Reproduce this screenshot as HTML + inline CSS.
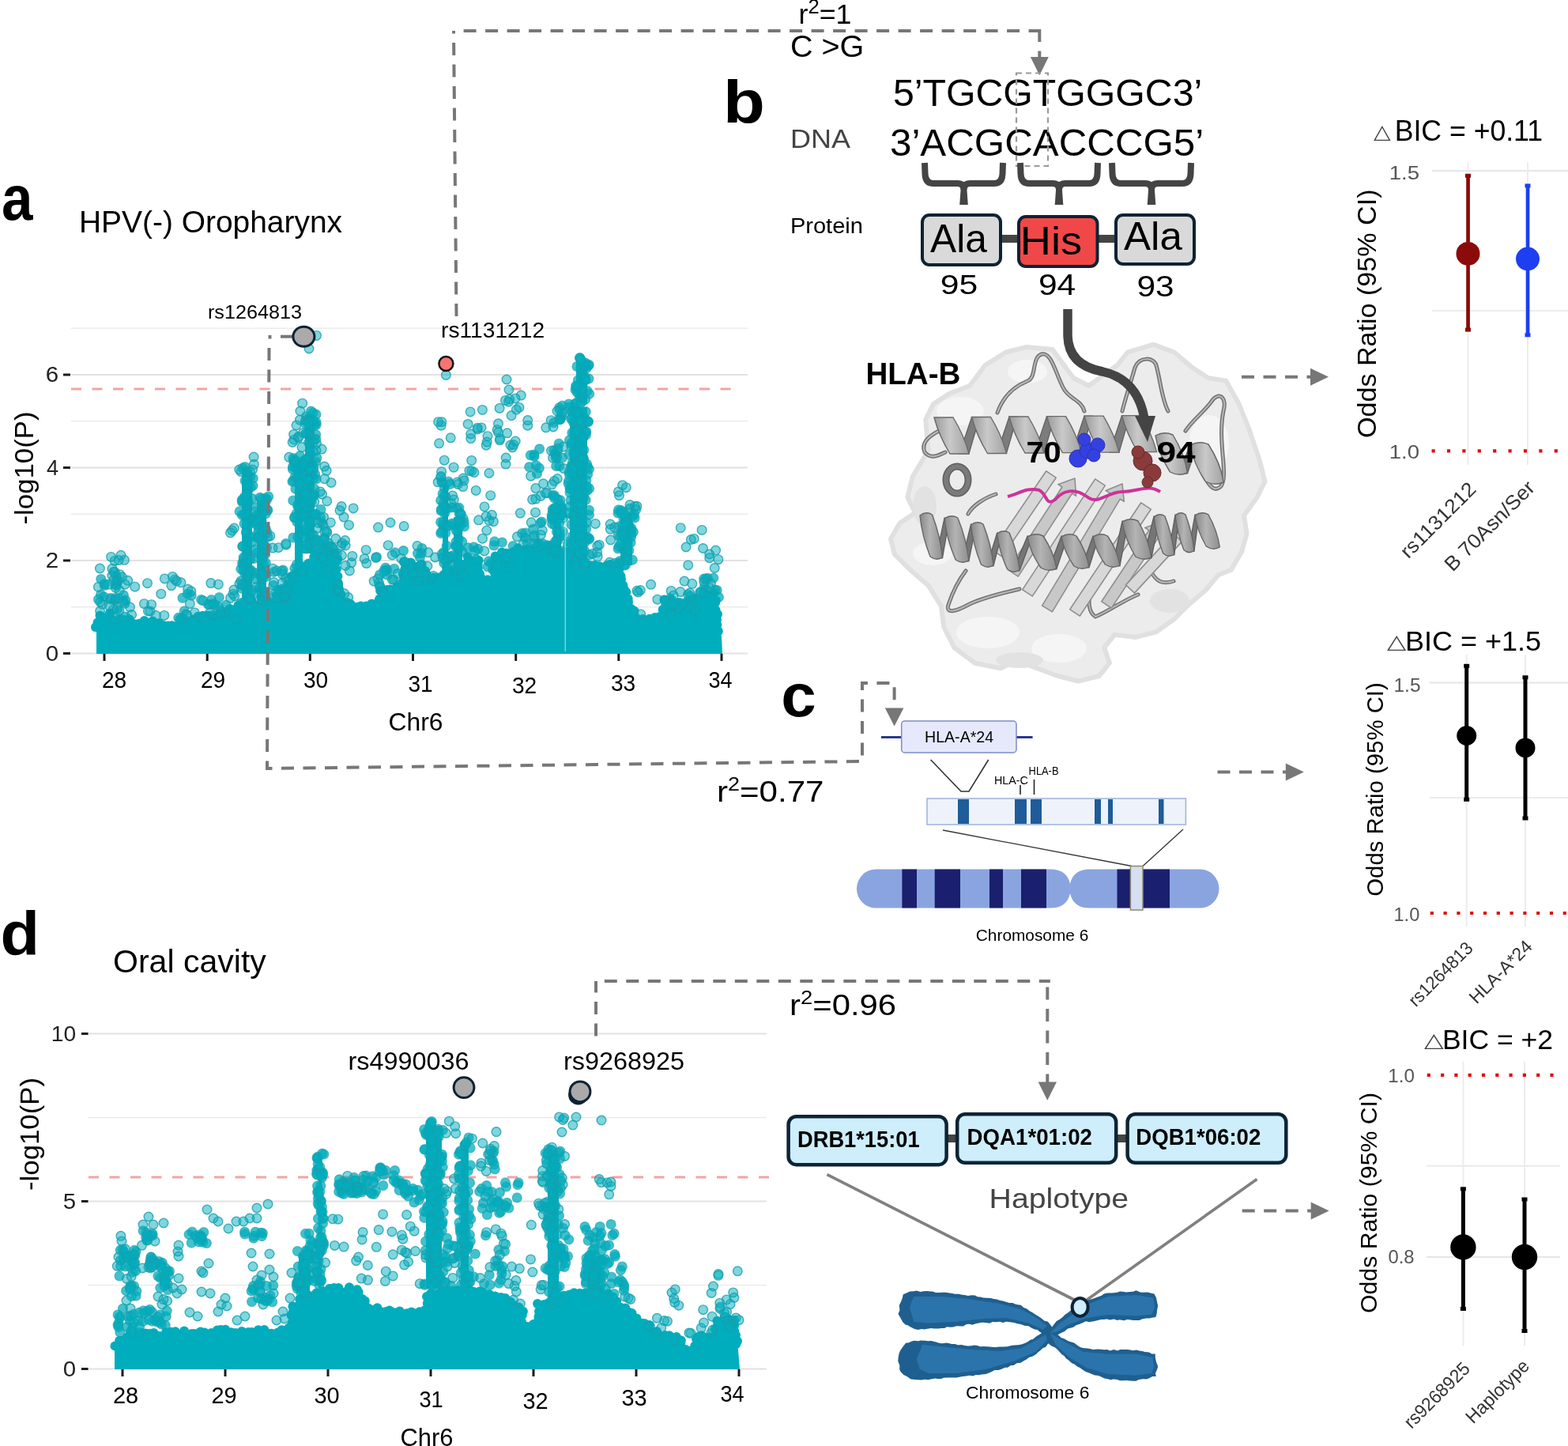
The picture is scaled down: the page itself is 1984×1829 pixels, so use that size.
<!DOCTYPE html>
<html><head><meta charset="utf-8"><style>
html,body{margin:0;padding:0;background:#fff;}
svg{display:block;}
text{font-family:"Liberation Sans",Arial,sans-serif;}
</style></head><body>
<svg width="1984" height="1829" viewBox="0 0 1984 1829">
<rect width="1984" height="1829" fill="#fff"/>
<text x="1.9" y="278.0" font-size="79.6" textLength="39.5" lengthAdjust="spacingAndGlyphs" font-weight="bold" fill="#000">a</text>
<text x="914.9" y="154.5" font-size="75.9" textLength="52.9" lengthAdjust="spacingAndGlyphs" font-weight="bold" fill="#000">b</text>
<text x="988.2" y="906.0" font-size="76.7" textLength="44.5" lengthAdjust="spacingAndGlyphs" font-weight="bold" fill="#000">c</text>
<text x="0.4" y="1208.0" font-size="78.6" textLength="49.5" lengthAdjust="spacingAndGlyphs" font-weight="bold" fill="#000">d</text>
<line x1="90" y1="826.5" x2="946" y2="826.5" stroke="#e2e2e2" stroke-width="2"/><line x1="90" y1="767.8" x2="946" y2="767.8" stroke="#ebebeb" stroke-width="1.6"/><line x1="90" y1="709.0" x2="946" y2="709.0" stroke="#e2e2e2" stroke-width="2"/><line x1="90" y1="650.2" x2="946" y2="650.2" stroke="#ebebeb" stroke-width="1.6"/><line x1="90" y1="591.5" x2="946" y2="591.5" stroke="#e2e2e2" stroke-width="2"/><line x1="90" y1="532.8" x2="946" y2="532.8" stroke="#ebebeb" stroke-width="1.6"/><line x1="90" y1="474.0" x2="946" y2="474.0" stroke="#e2e2e2" stroke-width="2"/><line x1="90" y1="415.2" x2="946" y2="415.2" stroke="#ebebeb" stroke-width="1.6"/>
<line x1="90" y1="492" x2="936" y2="492" stroke="#f4a3a3" stroke-width="3" stroke-dasharray="13 13.5"/>
<line x1="80" y1="826.5" x2="89" y2="826.5" stroke="#1a1a1a" stroke-width="3"/>
<text x="57.8" y="835.8" font-size="26.8" textLength="16.4" lengthAdjust="spacingAndGlyphs" fill="#222">0</text>
<line x1="80" y1="709.0" x2="89" y2="709.0" stroke="#1a1a1a" stroke-width="3"/>
<text x="57.8" y="718.3" font-size="26.8" textLength="16.4" lengthAdjust="spacingAndGlyphs" fill="#222">2</text>
<line x1="80" y1="591.5" x2="89" y2="591.5" stroke="#1a1a1a" stroke-width="3"/>
<text x="59.0" y="600.8" font-size="26.8" textLength="15.1" lengthAdjust="spacingAndGlyphs" fill="#222">4</text>
<line x1="80" y1="474.0" x2="89" y2="474.0" stroke="#1a1a1a" stroke-width="3"/>
<text x="57.8" y="483.3" font-size="26.8" textLength="16.4" lengthAdjust="spacingAndGlyphs" fill="#222">6</text>
<line x1="132.0" y1="827" x2="132.0" y2="836" stroke="#1a1a1a" stroke-width="3"/>
<text x="128.9" y="870.0" font-size="29.0" textLength="31.2" lengthAdjust="spacingAndGlyphs" fill="#000">28</text>
<line x1="262.2" y1="827" x2="262.2" y2="836" stroke="#1a1a1a" stroke-width="3"/>
<text x="253.9" y="870.0" font-size="29.0" textLength="31.2" lengthAdjust="spacingAndGlyphs" fill="#000">29</text>
<line x1="392.3" y1="827" x2="392.3" y2="836" stroke="#1a1a1a" stroke-width="3"/>
<text x="383.9" y="870.0" font-size="29.0" textLength="31.2" lengthAdjust="spacingAndGlyphs" fill="#000">30</text>
<line x1="522.5" y1="827" x2="522.5" y2="836" stroke="#1a1a1a" stroke-width="3"/>
<text x="516.4" y="875.0" font-size="29.0" textLength="31.2" lengthAdjust="spacingAndGlyphs" fill="#000">31</text>
<line x1="652.7" y1="827" x2="652.7" y2="836" stroke="#1a1a1a" stroke-width="3"/>
<text x="647.9" y="876.5" font-size="29.0" textLength="31.3" lengthAdjust="spacingAndGlyphs" fill="#000">32</text>
<line x1="782.8" y1="827" x2="782.8" y2="836" stroke="#1a1a1a" stroke-width="3"/>
<text x="772.9" y="874.0" font-size="29.0" textLength="31.3" lengthAdjust="spacingAndGlyphs" fill="#000">33</text>
<line x1="913.0" y1="827" x2="913.0" y2="836" stroke="#1a1a1a" stroke-width="3"/>
<text x="896.4" y="870.0" font-size="29.0" textLength="30.1" lengthAdjust="spacingAndGlyphs" fill="#000">34</text>
<text x="491.5" y="924.0" font-size="31.2" textLength="69.0" lengthAdjust="spacingAndGlyphs" fill="#000">Chr6</text>
<g transform="translate(42.0,662.5) rotate(-90)"><text x="-1.0" y="0.0" font-size="34.0" textLength="143.0" lengthAdjust="spacingAndGlyphs" fill="#000">-log10(P)</text></g>
<text x="100.0" y="294.0" font-size="39.1" textLength="333.0" lengthAdjust="spacingAndGlyphs" fill="#000">HPV(-) Oropharynx</text>
<line x1="111" y1="1731.5" x2="970" y2="1731.5" stroke="#e2e2e2" stroke-width="2"/><line x1="111" y1="1625.5" x2="970" y2="1625.5" stroke="#ebebeb" stroke-width="1.6"/><line x1="111" y1="1519.5" x2="970" y2="1519.5" stroke="#e2e2e2" stroke-width="2"/><line x1="111" y1="1413.5" x2="970" y2="1413.5" stroke="#ebebeb" stroke-width="1.6"/><line x1="111" y1="1307.5" x2="970" y2="1307.5" stroke="#e2e2e2" stroke-width="2"/>
<line x1="112" y1="1489" x2="985" y2="1489" stroke="#f4a3a3" stroke-width="3" stroke-dasharray="13 13.5"/>
<line x1="103" y1="1731.5" x2="111.5" y2="1731.5" stroke="#1a1a1a" stroke-width="3"/>
<text x="79.8" y="1741.1" font-size="28.3" textLength="16.4" lengthAdjust="spacingAndGlyphs" fill="#222">0</text>
<line x1="103" y1="1519.5" x2="111.5" y2="1519.5" stroke="#1a1a1a" stroke-width="3"/>
<text x="79.8" y="1529.1" font-size="28.3" textLength="16.4" lengthAdjust="spacingAndGlyphs" fill="#222">5</text>
<line x1="103" y1="1307.5" x2="111.5" y2="1307.5" stroke="#1a1a1a" stroke-width="3"/>
<text x="64.8" y="1317.1" font-size="28.3" textLength="31.4" lengthAdjust="spacingAndGlyphs" fill="#222">10</text>
<line x1="155.0" y1="1732" x2="155.0" y2="1741" stroke="#1a1a1a" stroke-width="3"/>
<text x="142.9" y="1775.0" font-size="29.0" textLength="32.2" lengthAdjust="spacingAndGlyphs" fill="#000">28</text>
<line x1="285.0" y1="1732" x2="285.0" y2="1741" stroke="#1a1a1a" stroke-width="3"/>
<text x="267.4" y="1775.0" font-size="29.0" textLength="32.2" lengthAdjust="spacingAndGlyphs" fill="#000">29</text>
<line x1="415.0" y1="1732" x2="415.0" y2="1741" stroke="#1a1a1a" stroke-width="3"/>
<text x="397.4" y="1775.0" font-size="29.0" textLength="32.2" lengthAdjust="spacingAndGlyphs" fill="#000">30</text>
<line x1="545.0" y1="1732" x2="545.0" y2="1741" stroke="#1a1a1a" stroke-width="3"/>
<text x="530.4" y="1780.0" font-size="29.0" textLength="30.3" lengthAdjust="spacingAndGlyphs" fill="#000">31</text>
<line x1="675.0" y1="1732" x2="675.0" y2="1741" stroke="#1a1a1a" stroke-width="3"/>
<text x="661.4" y="1782.0" font-size="29.0" textLength="32.2" lengthAdjust="spacingAndGlyphs" fill="#000">32</text>
<line x1="805.0" y1="1732" x2="805.0" y2="1741" stroke="#1a1a1a" stroke-width="3"/>
<text x="786.4" y="1778.0" font-size="29.0" textLength="32.2" lengthAdjust="spacingAndGlyphs" fill="#000">33</text>
<line x1="935.0" y1="1732" x2="935.0" y2="1741" stroke="#1a1a1a" stroke-width="3"/>
<text x="911.4" y="1773.0" font-size="29.0" textLength="30.1" lengthAdjust="spacingAndGlyphs" fill="#000">34</text>
<text x="506.5" y="1829.0" font-size="31.2" textLength="67.0" lengthAdjust="spacingAndGlyphs" fill="#000">Chr6</text>
<g transform="translate(48.5,1505.0) rotate(-90)"><text x="-1.0" y="0.0" font-size="34.0" textLength="143.0" lengthAdjust="spacingAndGlyphs" fill="#000">-log10(P)</text></g>
<text x="143.0" y="1229.5" font-size="40.3" textLength="193.9" lengthAdjust="spacingAndGlyphs" fill="#000">Oral cavity</text>
<polygon points="122.0,827.0 122.0,792.0 126.0,780.0 140.0,776.0 150.0,782.0 170.0,786.0 230.0,789.0 250.0,780.0 290.0,771.0 300.0,764.0 345.0,760.0 355.0,745.0 365.0,735.0 400.0,700.0 410.0,690.0 425.0,700.0 428.0,749.0 450.0,768.0 478.0,762.0 482.0,748.0 508.0,742.0 512.0,712.0 535.0,714.0 540.0,732.0 555.0,730.0 575.0,720.0 590.0,705.0 605.0,708.0 607.0,732.0 624.0,730.0 627.0,700.0 650.0,695.0 680.0,690.0 695.0,690.0 714.0,700.0 716.0,700.0 720.0,700.0 747.0,715.0 780.0,715.0 805.0,784.0 815.0,780.0 840.0,778.0 842.0,760.0 880.0,758.0 905.0,750.0 908.0,790.0 913.0,805.0 914.0,827.0" fill="#00adbd"/><g fill="#00adbd"><circle cx="121.0" cy="793.3" r="6"/><circle cx="123.5" cy="787.6" r="6"/><circle cx="126.5" cy="778.4" r="6"/><circle cx="131.1" cy="781.0" r="6"/><circle cx="139.0" cy="775.4" r="6"/><circle cx="152.0" cy="782.8" r="6"/><circle cx="158.0" cy="784.2" r="6"/><circle cx="163.9" cy="783.6" r="6"/><circle cx="170.5" cy="789.2" r="6"/><circle cx="176.1" cy="788.7" r="6"/><circle cx="182.7" cy="785.0" r="6"/><circle cx="189.0" cy="788.4" r="6"/><circle cx="193.2" cy="785.4" r="6"/><circle cx="201.5" cy="788.3" r="6"/><circle cx="206.9" cy="791.1" r="6"/><circle cx="212.9" cy="791.6" r="6"/><circle cx="217.6" cy="791.2" r="6"/><circle cx="223.8" cy="792.3" r="6"/><circle cx="231.5" cy="787.6" r="6"/><circle cx="235.2" cy="785.3" r="6"/><circle cx="245.2" cy="783.6" r="6"/><circle cx="250.5" cy="779.8" r="6"/><circle cx="256.7" cy="778.8" r="6"/><circle cx="262.7" cy="778.5" r="6"/><circle cx="270.3" cy="778.9" r="6"/><circle cx="277.4" cy="777.6" r="6"/><circle cx="284.8" cy="776.4" r="6"/><circle cx="290.7" cy="770.0" r="6"/><circle cx="296.4" cy="771.3" r="6"/><circle cx="301.6" cy="765.4" r="6"/><circle cx="307.3" cy="762.7" r="6"/><circle cx="314.2" cy="764.3" r="6"/><circle cx="318.4" cy="760.7" r="6"/><circle cx="327.1" cy="765.7" r="6"/><circle cx="330.5" cy="763.9" r="6"/><circle cx="338.2" cy="759.5" r="6"/><circle cx="344.2" cy="762.6" r="6"/><circle cx="349.8" cy="753.3" r="6"/><circle cx="352.1" cy="748.3" r="6"/><circle cx="355.9" cy="745.0" r="6"/><circle cx="361.5" cy="743.9" r="6"/><circle cx="365.0" cy="739.0" r="6"/><circle cx="368.6" cy="729.1" r="6"/><circle cx="374.1" cy="724.4" r="6"/><circle cx="376.9" cy="722.3" r="6"/><circle cx="382.9" cy="716.4" r="6"/><circle cx="385.0" cy="716.3" r="6"/><circle cx="390.5" cy="712.5" r="6"/><circle cx="397.2" cy="704.6" r="6"/><circle cx="399.8" cy="701.1" r="6"/><circle cx="405.6" cy="696.6" r="6"/><circle cx="410.2" cy="691.7" r="6"/><circle cx="416.8" cy="694.4" r="6"/><circle cx="419.7" cy="699.0" r="6"/><circle cx="424.0" cy="699.8" r="6"/><circle cx="427.3" cy="707.3" r="6"/><circle cx="425.9" cy="710.3" r="6"/><circle cx="425.8" cy="719.9" r="6"/><circle cx="424.6" cy="726.2" r="6"/><circle cx="427.4" cy="729.0" r="6"/><circle cx="427.8" cy="737.5" r="6"/><circle cx="428.3" cy="743.0" r="6"/><circle cx="428.8" cy="751.4" r="6"/><circle cx="431.6" cy="752.1" r="6"/><circle cx="439.7" cy="762.3" r="6"/><circle cx="443.5" cy="764.0" r="6"/><circle cx="450.4" cy="767.9" r="6"/><circle cx="456.5" cy="766.4" r="6"/><circle cx="463.5" cy="766.6" r="6"/><circle cx="470.2" cy="763.8" r="6"/><circle cx="479.1" cy="760.2" r="6"/><circle cx="480.3" cy="757.4" r="6"/><circle cx="481.2" cy="747.3" r="6"/><circle cx="489.7" cy="745.9" r="6"/><circle cx="493.7" cy="745.6" r="6"/><circle cx="502.3" cy="742.1" r="6"/><circle cx="507.3" cy="742.0" r="6"/><circle cx="510.1" cy="736.6" r="6"/><circle cx="511.0" cy="729.0" r="6"/><circle cx="509.7" cy="725.9" r="6"/><circle cx="512.7" cy="718.7" r="6"/><circle cx="510.9" cy="710.7" r="6"/><circle cx="519.8" cy="711.8" r="6"/><circle cx="528.6" cy="716.4" r="6"/><circle cx="533.7" cy="713.7" r="6"/><circle cx="537.9" cy="721.9" r="6"/><circle cx="539.6" cy="726.1" r="6"/><circle cx="538.5" cy="731.8" r="6"/><circle cx="548.7" cy="730.6" r="6"/><circle cx="554.4" cy="730.5" r="6"/><circle cx="561.3" cy="727.1" r="6"/><circle cx="570.0" cy="722.3" r="6"/><circle cx="573.0" cy="723.7" r="6"/><circle cx="581.5" cy="718.9" r="6"/><circle cx="584.7" cy="713.7" r="6"/><circle cx="591.7" cy="704.3" r="6"/><circle cx="598.5" cy="709.5" r="6"/><circle cx="605.7" cy="709.1" r="6"/><circle cx="604.7" cy="714.0" r="6"/><circle cx="604.9" cy="718.4" r="6"/><circle cx="606.9" cy="725.7" r="6"/><circle cx="608.2" cy="730.3" r="6"/><circle cx="617.1" cy="733.2" r="6"/><circle cx="625.7" cy="733.4" r="6"/><circle cx="626.2" cy="725.5" r="6"/><circle cx="623.3" cy="720.5" r="6"/><circle cx="624.5" cy="711.8" r="6"/><circle cx="627.1" cy="707.1" r="6"/><circle cx="626.7" cy="703.6" r="6"/><circle cx="635.1" cy="698.4" r="6"/><circle cx="641.3" cy="699.8" r="6"/><circle cx="649.9" cy="697.7" r="6"/><circle cx="655.4" cy="693.2" r="6"/><circle cx="662.1" cy="695.9" r="6"/><circle cx="666.7" cy="694.8" r="6"/><circle cx="675.7" cy="693.8" r="6"/><circle cx="681.3" cy="688.0" r="6"/><circle cx="688.0" cy="693.2" r="6"/><circle cx="693.2" cy="689.6" r="6"/><circle cx="700.4" cy="694.5" r="6"/><circle cx="707.4" cy="697.5" r="6"/><circle cx="715.1" cy="698.0" r="6"/><circle cx="714.2" cy="698.8" r="6"/><circle cx="718.5" cy="698.4" r="6"/><circle cx="727.3" cy="706.1" r="6"/><circle cx="729.1" cy="707.0" r="6"/><circle cx="735.5" cy="708.9" r="6"/><circle cx="741.0" cy="713.9" r="6"/><circle cx="747.3" cy="715.2" r="6"/><circle cx="752.4" cy="715.0" r="6"/><circle cx="758.7" cy="716.3" r="6"/><circle cx="767.7" cy="715.3" r="6"/><circle cx="771.7" cy="714.1" r="6"/><circle cx="779.5" cy="716.6" r="6"/><circle cx="783.2" cy="721.0" r="6"/><circle cx="785.4" cy="728.2" r="6"/><circle cx="786.0" cy="732.5" r="6"/><circle cx="788.3" cy="740.2" r="6"/><circle cx="790.1" cy="745.9" r="6"/><circle cx="792.3" cy="749.0" r="6"/><circle cx="794.7" cy="757.4" r="6"/><circle cx="795.0" cy="761.5" r="6"/><circle cx="798.5" cy="770.0" r="6"/><circle cx="802.6" cy="772.7" r="6"/><circle cx="804.5" cy="781.0" r="6"/><circle cx="804.0" cy="784.8" r="6"/><circle cx="813.5" cy="782.9" r="6"/><circle cx="821.9" cy="782.8" r="6"/><circle cx="828.7" cy="781.0" r="6"/><circle cx="834.7" cy="779.9" r="6"/><circle cx="838.4" cy="779.5" r="6"/><circle cx="838.7" cy="770.9" r="6"/><circle cx="842.4" cy="764.3" r="6"/><circle cx="840.4" cy="758.6" r="6"/><circle cx="849.9" cy="758.7" r="6"/><circle cx="852.8" cy="762.4" r="6"/><circle cx="859.5" cy="762.1" r="6"/><circle cx="868.0" cy="761.7" r="6"/><circle cx="875.5" cy="759.8" r="6"/><circle cx="881.2" cy="756.2" r="6"/><circle cx="887.3" cy="757.1" r="6"/><circle cx="893.4" cy="752.6" r="6"/><circle cx="899.7" cy="755.6" r="6"/><circle cx="903.2" cy="749.9" r="6"/><circle cx="905.8" cy="759.6" r="6"/><circle cx="905.0" cy="762.4" r="6"/><circle cx="905.5" cy="771.7" r="6"/><circle cx="908.0" cy="777.0" r="6"/><circle cx="907.0" cy="783.7" r="6"/><circle cx="907.4" cy="790.5" r="6"/><circle cx="908.8" cy="798.5" r="6"/></g><rect x="306.0" y="594.0" width="13.0" height="170.0" fill="#00adbd"/><rect x="325.0" y="632.0" width="12.0" height="132.0" fill="#00adbd"/><rect x="373.0" y="582.0" width="10.0" height="153.0" fill="#00adbd"/><rect x="386.0" y="524.0" width="12.0" height="176.0" fill="#00adbd"/><rect x="560.0" y="614.0" width="7.0" height="116.0" fill="#00adbd"/><rect x="574.0" y="654.0" width="11.0" height="76.0" fill="#00adbd"/><rect x="700.0" y="647.0" width="10.0" height="53.0" fill="#00adbd"/><rect x="721.0" y="515.0" width="22.0" height="200.0" fill="#00adbd"/><rect x="729.0" y="456.0" width="14.0" height="55.0" fill="#00adbd"/><rect x="785.0" y="649.0" width="15.0" height="66.0" fill="#00adbd"/><g fill="#00adbd" fill-opacity="0.75" stroke="#1a9eab" stroke-opacity="0.6" stroke-width="1.2"><circle cx="321.5" cy="660.7" r="6"/><circle cx="317.2" cy="616.3" r="6"/><circle cx="316.1" cy="721.1" r="6"/><circle cx="315.8" cy="679.0" r="6"/><circle cx="312.2" cy="701.2" r="6"/><circle cx="320.1" cy="614.3" r="6"/><circle cx="304.8" cy="719.7" r="6"/><circle cx="320.4" cy="679.0" r="6"/><circle cx="311.4" cy="714.5" r="6"/><circle cx="306.5" cy="635.1" r="6"/><circle cx="306.8" cy="691.1" r="6"/><circle cx="309.0" cy="628.9" r="6"/><circle cx="316.1" cy="755.8" r="6"/><circle cx="308.6" cy="712.1" r="6"/><circle cx="310.9" cy="738.2" r="6"/><circle cx="314.1" cy="635.0" r="6"/><circle cx="307.1" cy="592.1" r="6"/><circle cx="312.1" cy="655.4" r="6"/><circle cx="306.3" cy="651.4" r="6"/><circle cx="309.1" cy="724.3" r="6"/><circle cx="305.7" cy="762.5" r="6"/><circle cx="312.1" cy="693.4" r="6"/><circle cx="311.9" cy="734.9" r="6"/><circle cx="318.6" cy="686.1" r="6"/><circle cx="312.1" cy="714.8" r="6"/><circle cx="319.3" cy="658.4" r="6"/><circle cx="316.9" cy="757.0" r="6"/><circle cx="311.9" cy="628.4" r="6"/><circle cx="307.5" cy="714.3" r="6"/><circle cx="315.8" cy="756.7" r="6"/><circle cx="319.2" cy="630.6" r="6"/><circle cx="306.6" cy="633.5" r="6"/><circle cx="306.6" cy="712.0" r="6"/><circle cx="319.3" cy="746.4" r="6"/><circle cx="307.8" cy="740.3" r="6"/><circle cx="309.0" cy="662.5" r="6"/><circle cx="316.9" cy="603.1" r="6"/><circle cx="304.8" cy="734.8" r="6"/><circle cx="308.5" cy="650.8" r="6"/><circle cx="314.0" cy="706.9" r="6"/><circle cx="303.1" cy="646.9" r="6"/><circle cx="311.3" cy="673.5" r="6"/><circle cx="307.0" cy="691.0" r="6"/><circle cx="321.2" cy="656.8" r="6"/><circle cx="313.3" cy="609.0" r="6"/><circle cx="308.2" cy="705.1" r="6"/><circle cx="305.1" cy="744.1" r="6"/><circle cx="320.3" cy="605.1" r="6"/><circle cx="320.9" cy="653.9" r="6"/><circle cx="317.7" cy="721.3" r="6"/><circle cx="308.6" cy="707.0" r="6"/><circle cx="315.4" cy="729.9" r="6"/><circle cx="308.0" cy="720.7" r="6"/><circle cx="321.3" cy="706.4" r="6"/><circle cx="313.2" cy="607.9" r="6"/><circle cx="312.4" cy="650.0" r="6"/><circle cx="316.6" cy="707.4" r="6"/><circle cx="313.8" cy="620.0" r="6"/><circle cx="333.6" cy="713.1" r="6"/><circle cx="325.2" cy="748.8" r="6"/><circle cx="333.8" cy="643.0" r="6"/><circle cx="338.8" cy="645.5" r="6"/><circle cx="328.0" cy="725.4" r="6"/><circle cx="332.8" cy="702.6" r="6"/><circle cx="333.7" cy="689.2" r="6"/><circle cx="327.6" cy="650.3" r="6"/><circle cx="323.2" cy="724.8" r="6"/><circle cx="335.6" cy="701.0" r="6"/><circle cx="335.3" cy="675.6" r="6"/><circle cx="326.8" cy="678.9" r="6"/><circle cx="337.7" cy="631.8" r="6"/><circle cx="331.1" cy="660.1" r="6"/><circle cx="335.8" cy="674.9" r="6"/><circle cx="328.0" cy="681.7" r="6"/><circle cx="331.7" cy="732.5" r="6"/><circle cx="328.4" cy="742.9" r="6"/><circle cx="324.0" cy="663.3" r="6"/><circle cx="323.8" cy="641.6" r="6"/><circle cx="336.0" cy="726.4" r="6"/><circle cx="325.3" cy="652.1" r="6"/><circle cx="329.5" cy="728.6" r="6"/><circle cx="336.7" cy="729.3" r="6"/><circle cx="332.7" cy="646.2" r="6"/><circle cx="329.2" cy="652.7" r="6"/><circle cx="331.5" cy="704.4" r="6"/><circle cx="325.6" cy="660.5" r="6"/><circle cx="336.1" cy="630.2" r="6"/><circle cx="336.5" cy="749.0" r="6"/><circle cx="339.1" cy="678.9" r="6"/><circle cx="331.9" cy="706.5" r="6"/><circle cx="333.4" cy="760.8" r="6"/><circle cx="334.4" cy="667.3" r="6"/><circle cx="337.5" cy="692.8" r="6"/><circle cx="332.8" cy="726.3" r="6"/><circle cx="322.0" cy="732.3" r="6"/><circle cx="333.9" cy="693.9" r="6"/><circle cx="331.4" cy="689.6" r="6"/><circle cx="325.5" cy="699.1" r="6"/><circle cx="322.7" cy="695.1" r="6"/><circle cx="333.6" cy="687.3" r="6"/><circle cx="332.2" cy="758.3" r="6"/><circle cx="338.1" cy="644.7" r="6"/><circle cx="336.3" cy="712.0" r="6"/><circle cx="370.8" cy="633.2" r="6"/><circle cx="373.7" cy="588.4" r="6"/><circle cx="378.6" cy="723.8" r="6"/><circle cx="375.2" cy="714.4" r="6"/><circle cx="381.1" cy="597.4" r="6"/><circle cx="383.7" cy="671.6" r="6"/><circle cx="384.8" cy="689.8" r="6"/><circle cx="381.8" cy="630.6" r="6"/><circle cx="382.9" cy="724.1" r="6"/><circle cx="383.8" cy="645.5" r="6"/><circle cx="382.1" cy="653.1" r="6"/><circle cx="371.7" cy="582.8" r="6"/><circle cx="371.2" cy="607.8" r="6"/><circle cx="372.6" cy="655.0" r="6"/><circle cx="381.2" cy="661.5" r="6"/><circle cx="376.8" cy="679.2" r="6"/><circle cx="374.9" cy="649.8" r="6"/><circle cx="382.1" cy="639.8" r="6"/><circle cx="372.9" cy="719.0" r="6"/><circle cx="381.5" cy="634.3" r="6"/><circle cx="375.9" cy="660.2" r="6"/><circle cx="379.5" cy="611.6" r="6"/><circle cx="370.0" cy="609.2" r="6"/><circle cx="382.5" cy="598.8" r="6"/><circle cx="377.4" cy="607.1" r="6"/><circle cx="373.3" cy="603.2" r="6"/><circle cx="376.5" cy="602.8" r="6"/><circle cx="370.4" cy="593.5" r="6"/><circle cx="372.7" cy="654.0" r="6"/><circle cx="371.0" cy="579.6" r="6"/><circle cx="377.2" cy="640.8" r="6"/><circle cx="381.3" cy="584.1" r="6"/><circle cx="376.5" cy="639.1" r="6"/><circle cx="370.4" cy="729.5" r="6"/><circle cx="373.5" cy="591.0" r="6"/><circle cx="377.6" cy="602.2" r="6"/><circle cx="380.0" cy="631.1" r="6"/><circle cx="372.0" cy="584.3" r="6"/><circle cx="381.6" cy="619.7" r="6"/><circle cx="382.6" cy="650.0" r="6"/><circle cx="384.9" cy="623.8" r="6"/><circle cx="374.0" cy="618.3" r="6"/><circle cx="383.0" cy="676.0" r="6"/><circle cx="375.5" cy="590.9" r="6"/><circle cx="380.9" cy="730.1" r="6"/><circle cx="379.5" cy="576.6" r="6"/><circle cx="370.5" cy="590.4" r="6"/><circle cx="372.7" cy="581.8" r="6"/><circle cx="370.9" cy="680.0" r="6"/><circle cx="384.4" cy="607.9" r="6"/><circle cx="385.6" cy="651.8" r="6"/><circle cx="382.9" cy="721.9" r="6"/><circle cx="399.9" cy="524.2" r="6"/><circle cx="388.5" cy="628.5" r="6"/><circle cx="400.0" cy="534.0" r="6"/><circle cx="388.3" cy="672.7" r="6"/><circle cx="385.1" cy="589.0" r="6"/><circle cx="389.0" cy="641.8" r="6"/><circle cx="399.7" cy="549.8" r="6"/><circle cx="396.3" cy="651.6" r="6"/><circle cx="398.0" cy="618.7" r="6"/><circle cx="399.6" cy="584.0" r="6"/><circle cx="390.5" cy="559.8" r="6"/><circle cx="397.0" cy="605.5" r="6"/><circle cx="387.9" cy="548.9" r="6"/><circle cx="396.0" cy="628.2" r="6"/><circle cx="395.8" cy="588.4" r="6"/><circle cx="391.8" cy="546.0" r="6"/><circle cx="395.8" cy="522.2" r="6"/><circle cx="391.4" cy="656.0" r="6"/><circle cx="395.2" cy="535.7" r="6"/><circle cx="387.3" cy="671.5" r="6"/><circle cx="394.6" cy="677.9" r="6"/><circle cx="398.7" cy="599.9" r="6"/><circle cx="399.1" cy="651.4" r="6"/><circle cx="389.0" cy="585.4" r="6"/><circle cx="384.3" cy="590.7" r="6"/><circle cx="400.2" cy="537.1" r="6"/><circle cx="393.2" cy="538.0" r="6"/><circle cx="384.5" cy="636.1" r="6"/><circle cx="387.3" cy="526.9" r="6"/><circle cx="385.7" cy="635.3" r="6"/><circle cx="393.5" cy="520.1" r="6"/><circle cx="387.1" cy="694.0" r="6"/><circle cx="387.0" cy="620.4" r="6"/><circle cx="390.6" cy="660.2" r="6"/><circle cx="393.9" cy="661.5" r="6"/><circle cx="392.6" cy="552.2" r="6"/><circle cx="386.2" cy="532.4" r="6"/><circle cx="397.9" cy="538.5" r="6"/><circle cx="383.4" cy="693.9" r="6"/><circle cx="386.6" cy="680.6" r="6"/><circle cx="384.5" cy="602.7" r="6"/><circle cx="387.0" cy="669.0" r="6"/><circle cx="394.1" cy="634.8" r="6"/><circle cx="396.7" cy="676.6" r="6"/><circle cx="389.2" cy="627.8" r="6"/><circle cx="391.0" cy="538.2" r="6"/><circle cx="398.0" cy="626.2" r="6"/><circle cx="397.7" cy="555.5" r="6"/><circle cx="392.7" cy="602.5" r="6"/><circle cx="396.1" cy="532.1" r="6"/><circle cx="389.2" cy="606.2" r="6"/><circle cx="384.3" cy="618.6" r="6"/><circle cx="396.2" cy="595.0" r="6"/><circle cx="394.7" cy="628.3" r="6"/><circle cx="386.9" cy="581.8" r="6"/><circle cx="400.9" cy="579.0" r="6"/><circle cx="390.8" cy="533.3" r="6"/><circle cx="386.9" cy="548.1" r="6"/><circle cx="399.8" cy="650.2" r="6"/><circle cx="398.7" cy="697.6" r="6"/><circle cx="394.0" cy="687.5" r="6"/><circle cx="392.6" cy="594.2" r="6"/><circle cx="400.1" cy="682.4" r="6"/><circle cx="400.1" cy="606.1" r="6"/><circle cx="396.9" cy="592.1" r="6"/><circle cx="401.0" cy="685.5" r="6"/><circle cx="388.3" cy="688.0" r="6"/><circle cx="386.3" cy="535.4" r="6"/><circle cx="396.0" cy="571.6" r="6"/><circle cx="392.4" cy="634.3" r="6"/><circle cx="383.7" cy="653.6" r="6"/><circle cx="560.6" cy="660.8" r="6"/><circle cx="561.5" cy="698.5" r="6"/><circle cx="566.7" cy="643.1" r="6"/><circle cx="558.3" cy="644.5" r="6"/><circle cx="562.3" cy="617.5" r="6"/><circle cx="559.0" cy="701.1" r="6"/><circle cx="566.1" cy="727.1" r="6"/><circle cx="569.7" cy="714.9" r="6"/><circle cx="561.8" cy="627.7" r="6"/><circle cx="561.1" cy="664.5" r="6"/><circle cx="563.8" cy="674.1" r="6"/><circle cx="561.7" cy="712.0" r="6"/><circle cx="560.7" cy="664.5" r="6"/><circle cx="568.5" cy="706.5" r="6"/><circle cx="560.9" cy="637.6" r="6"/><circle cx="567.5" cy="609.2" r="6"/><circle cx="558.7" cy="672.8" r="6"/><circle cx="564.0" cy="628.2" r="6"/><circle cx="557.7" cy="632.9" r="6"/><circle cx="567.0" cy="664.8" r="6"/><circle cx="569.7" cy="703.8" r="6"/><circle cx="569.7" cy="612.3" r="6"/><circle cx="559.4" cy="609.6" r="6"/><circle cx="562.6" cy="649.3" r="6"/><circle cx="557.7" cy="674.6" r="6"/><circle cx="558.2" cy="646.0" r="6"/><circle cx="560.2" cy="705.9" r="6"/><circle cx="562.4" cy="639.8" r="6"/><circle cx="557.6" cy="660.4" r="6"/><circle cx="565.2" cy="690.4" r="6"/><circle cx="568.9" cy="706.6" r="6"/><circle cx="560.2" cy="624.6" r="6"/><circle cx="566.9" cy="704.3" r="6"/><circle cx="563.6" cy="709.4" r="6"/><circle cx="564.2" cy="642.1" r="6"/><circle cx="559.2" cy="610.1" r="6"/><circle cx="565.4" cy="717.4" r="6"/><circle cx="568.8" cy="665.0" r="6"/><circle cx="565.7" cy="721.3" r="6"/><circle cx="584.8" cy="697.4" r="6"/><circle cx="578.0" cy="690.5" r="6"/><circle cx="573.9" cy="663.0" r="6"/><circle cx="582.6" cy="729.4" r="6"/><circle cx="580.3" cy="681.5" r="6"/><circle cx="577.0" cy="685.3" r="6"/><circle cx="584.7" cy="685.1" r="6"/><circle cx="587.3" cy="660.7" r="6"/><circle cx="576.4" cy="690.8" r="6"/><circle cx="578.0" cy="717.8" r="6"/><circle cx="585.1" cy="724.4" r="6"/><circle cx="581.4" cy="650.5" r="6"/><circle cx="580.8" cy="693.1" r="6"/><circle cx="579.3" cy="670.9" r="6"/><circle cx="583.1" cy="722.8" r="6"/><circle cx="572.7" cy="702.8" r="6"/><circle cx="577.3" cy="690.2" r="6"/><circle cx="586.2" cy="726.7" r="6"/><circle cx="581.9" cy="664.0" r="6"/><circle cx="711.7" cy="651.7" r="6"/><circle cx="703.1" cy="689.9" r="6"/><circle cx="702.1" cy="657.0" r="6"/><circle cx="712.2" cy="696.7" r="6"/><circle cx="702.1" cy="664.2" r="6"/><circle cx="701.5" cy="648.8" r="6"/><circle cx="701.0" cy="698.8" r="6"/><circle cx="698.3" cy="654.6" r="6"/><circle cx="700.2" cy="645.7" r="6"/><circle cx="705.4" cy="684.8" r="6"/><circle cx="710.4" cy="678.2" r="6"/><circle cx="710.1" cy="641.3" r="6"/><circle cx="701.5" cy="697.7" r="6"/><circle cx="698.1" cy="656.8" r="6"/><circle cx="704.7" cy="656.8" r="6"/><circle cx="705.7" cy="643.8" r="6"/><circle cx="700.8" cy="697.5" r="6"/><circle cx="699.3" cy="694.4" r="6"/><circle cx="699.8" cy="699.6" r="6"/><circle cx="707.8" cy="679.2" r="6"/><circle cx="699.3" cy="644.2" r="6"/><circle cx="709.2" cy="651.4" r="6"/><circle cx="700.0" cy="689.5" r="6"/><circle cx="711.0" cy="643.9" r="6"/><circle cx="712.4" cy="672.5" r="6"/><circle cx="703.1" cy="647.3" r="6"/><circle cx="703.2" cy="699.3" r="6"/><circle cx="701.5" cy="648.7" r="6"/><circle cx="699.3" cy="648.5" r="6"/><circle cx="702.6" cy="695.0" r="6"/><circle cx="698.2" cy="652.3" r="6"/><circle cx="712.0" cy="699.8" r="6"/><circle cx="712.7" cy="655.5" r="6"/><circle cx="702.7" cy="697.1" r="6"/><circle cx="704.8" cy="682.5" r="6"/><circle cx="702.0" cy="642.3" r="6"/><circle cx="702.5" cy="685.1" r="6"/><circle cx="709.5" cy="674.6" r="6"/><circle cx="704.4" cy="672.7" r="6"/><circle cx="730.4" cy="619.1" r="6"/><circle cx="741.3" cy="550.3" r="6"/><circle cx="734.6" cy="701.2" r="6"/><circle cx="741.8" cy="546.0" r="6"/><circle cx="745.0" cy="682.0" r="6"/><circle cx="722.7" cy="563.8" r="6"/><circle cx="723.7" cy="519.9" r="6"/><circle cx="745.4" cy="593.3" r="6"/><circle cx="742.4" cy="532.6" r="6"/><circle cx="718.4" cy="688.2" r="6"/><circle cx="740.2" cy="713.3" r="6"/><circle cx="737.2" cy="617.2" r="6"/><circle cx="739.4" cy="528.1" r="6"/><circle cx="733.1" cy="599.9" r="6"/><circle cx="722.1" cy="632.7" r="6"/><circle cx="727.0" cy="613.3" r="6"/><circle cx="728.5" cy="574.5" r="6"/><circle cx="728.0" cy="632.8" r="6"/><circle cx="745.5" cy="701.8" r="6"/><circle cx="742.1" cy="681.1" r="6"/><circle cx="726.0" cy="710.2" r="6"/><circle cx="725.6" cy="534.4" r="6"/><circle cx="732.0" cy="659.8" r="6"/><circle cx="727.5" cy="641.9" r="6"/><circle cx="725.9" cy="708.2" r="6"/><circle cx="730.7" cy="607.4" r="6"/><circle cx="732.9" cy="689.2" r="6"/><circle cx="745.6" cy="617.9" r="6"/><circle cx="730.4" cy="636.3" r="6"/><circle cx="719.9" cy="596.6" r="6"/><circle cx="741.7" cy="669.1" r="6"/><circle cx="719.7" cy="685.0" r="6"/><circle cx="728.8" cy="711.1" r="6"/><circle cx="728.3" cy="553.2" r="6"/><circle cx="733.4" cy="691.1" r="6"/><circle cx="730.1" cy="687.7" r="6"/><circle cx="737.9" cy="583.5" r="6"/><circle cx="726.4" cy="613.1" r="6"/><circle cx="729.2" cy="585.7" r="6"/><circle cx="736.2" cy="689.3" r="6"/><circle cx="734.4" cy="539.1" r="6"/><circle cx="724.2" cy="585.4" r="6"/><circle cx="735.2" cy="537.7" r="6"/><circle cx="720.3" cy="575.1" r="6"/><circle cx="725.9" cy="515.1" r="6"/><circle cx="733.1" cy="698.8" r="6"/><circle cx="733.0" cy="660.9" r="6"/><circle cx="741.2" cy="681.6" r="6"/><circle cx="743.6" cy="599.9" r="6"/><circle cx="737.1" cy="533.9" r="6"/><circle cx="742.6" cy="586.9" r="6"/><circle cx="731.3" cy="692.4" r="6"/><circle cx="726.0" cy="548.1" r="6"/><circle cx="741.1" cy="632.4" r="6"/><circle cx="720.4" cy="514.8" r="6"/><circle cx="727.8" cy="510.5" r="6"/><circle cx="741.3" cy="546.8" r="6"/><circle cx="725.7" cy="589.1" r="6"/><circle cx="732.3" cy="598.1" r="6"/><circle cx="735.6" cy="644.9" r="6"/><circle cx="730.2" cy="529.0" r="6"/><circle cx="745.4" cy="651.4" r="6"/><circle cx="720.3" cy="600.0" r="6"/><circle cx="739.1" cy="713.3" r="6"/><circle cx="719.8" cy="511.0" r="6"/><circle cx="731.4" cy="596.0" r="6"/><circle cx="743.0" cy="679.3" r="6"/><circle cx="727.3" cy="595.3" r="6"/><circle cx="734.3" cy="691.1" r="6"/><circle cx="723.7" cy="589.7" r="6"/><circle cx="720.5" cy="641.1" r="6"/><circle cx="718.7" cy="701.6" r="6"/><circle cx="732.7" cy="627.2" r="6"/><circle cx="720.4" cy="556.8" r="6"/><circle cx="731.1" cy="685.6" r="6"/><circle cx="733.1" cy="567.6" r="6"/><circle cx="745.5" cy="645.3" r="6"/><circle cx="732.8" cy="550.7" r="6"/><circle cx="726.4" cy="694.4" r="6"/><circle cx="721.7" cy="618.5" r="6"/><circle cx="735.4" cy="582.1" r="6"/><circle cx="739.5" cy="696.5" r="6"/><circle cx="742.0" cy="661.0" r="6"/><circle cx="723.7" cy="521.3" r="6"/><circle cx="730.1" cy="573.3" r="6"/><circle cx="723.4" cy="688.5" r="6"/><circle cx="724.0" cy="678.5" r="6"/><circle cx="744.3" cy="533.7" r="6"/><circle cx="743.6" cy="590.8" r="6"/><circle cx="723.9" cy="547.4" r="6"/><circle cx="719.1" cy="611.7" r="6"/><circle cx="728.8" cy="684.4" r="6"/><circle cx="741.3" cy="520.7" r="6"/><circle cx="729.2" cy="589.2" r="6"/><circle cx="723.0" cy="560.6" r="6"/><circle cx="725.4" cy="652.0" r="6"/><circle cx="727.5" cy="531.9" r="6"/><circle cx="724.2" cy="600.1" r="6"/><circle cx="733.8" cy="559.6" r="6"/><circle cx="737.6" cy="553.4" r="6"/><circle cx="736.8" cy="634.5" r="6"/><circle cx="722.9" cy="663.7" r="6"/><circle cx="729.0" cy="620.1" r="6"/><circle cx="734.7" cy="638.4" r="6"/><circle cx="730.4" cy="520.5" r="6"/><circle cx="740.0" cy="686.1" r="6"/><circle cx="731.7" cy="628.3" r="6"/><circle cx="725.5" cy="694.1" r="6"/><circle cx="737.2" cy="554.7" r="6"/><circle cx="740.9" cy="712.1" r="6"/><circle cx="727.7" cy="714.1" r="6"/><circle cx="731.5" cy="545.8" r="6"/><circle cx="738.1" cy="578.8" r="6"/><circle cx="738.5" cy="629.2" r="6"/><circle cx="721.0" cy="617.8" r="6"/><circle cx="741.8" cy="607.4" r="6"/><circle cx="733.1" cy="686.8" r="6"/><circle cx="730.5" cy="610.5" r="6"/><circle cx="734.3" cy="678.7" r="6"/><circle cx="723.7" cy="528.3" r="6"/><circle cx="739.3" cy="622.8" r="6"/><circle cx="726.5" cy="692.8" r="6"/><circle cx="742.8" cy="620.5" r="6"/><circle cx="745.7" cy="681.2" r="6"/><circle cx="738.9" cy="569.0" r="6"/><circle cx="718.3" cy="648.8" r="6"/><circle cx="738.6" cy="581.2" r="6"/><circle cx="731.4" cy="625.8" r="6"/><circle cx="725.0" cy="652.7" r="6"/><circle cx="733.8" cy="588.4" r="6"/><circle cx="721.1" cy="623.1" r="6"/><circle cx="727.0" cy="658.3" r="6"/><circle cx="722.8" cy="590.2" r="6"/><circle cx="723.5" cy="593.1" r="6"/><circle cx="734.1" cy="531.0" r="6"/><circle cx="719.5" cy="608.3" r="6"/><circle cx="723.6" cy="613.1" r="6"/><circle cx="722.7" cy="529.8" r="6"/><circle cx="733.1" cy="699.2" r="6"/><circle cx="742.3" cy="615.2" r="6"/><circle cx="729.1" cy="522.6" r="6"/><circle cx="725.7" cy="573.7" r="6"/><circle cx="744.4" cy="533.1" r="6"/><circle cx="745.0" cy="479.1" r="6"/><circle cx="734.7" cy="466.0" r="6"/><circle cx="745.3" cy="461.4" r="6"/><circle cx="737.4" cy="481.2" r="6"/><circle cx="730.0" cy="463.6" r="6"/><circle cx="745.7" cy="498.2" r="6"/><circle cx="740.7" cy="505.1" r="6"/><circle cx="728.0" cy="492.9" r="6"/><circle cx="741.0" cy="463.7" r="6"/><circle cx="735.1" cy="509.4" r="6"/><circle cx="732.5" cy="496.5" r="6"/><circle cx="729.3" cy="490.7" r="6"/><circle cx="731.4" cy="481.0" r="6"/><circle cx="733.4" cy="503.1" r="6"/><circle cx="740.9" cy="480.8" r="6"/><circle cx="739.7" cy="476.1" r="6"/><circle cx="742.1" cy="465.7" r="6"/><circle cx="736.9" cy="485.7" r="6"/><circle cx="733.8" cy="452.8" r="6"/><circle cx="729.4" cy="489.1" r="6"/><circle cx="730.2" cy="496.2" r="6"/><circle cx="736.1" cy="508.1" r="6"/><circle cx="743.0" cy="494.4" r="6"/><circle cx="733.5" cy="452.7" r="6"/><circle cx="737.1" cy="495.5" r="6"/><circle cx="744.4" cy="462.4" r="6"/><circle cx="729.2" cy="509.8" r="6"/><circle cx="740.8" cy="479.6" r="6"/><circle cx="740.8" cy="459.1" r="6"/><circle cx="736.9" cy="490.8" r="6"/><circle cx="738.1" cy="459.8" r="6"/><circle cx="728.7" cy="488.1" r="6"/><circle cx="800.6" cy="652.9" r="6"/><circle cx="782.1" cy="649.0" r="6"/><circle cx="798.5" cy="671.1" r="6"/><circle cx="791.6" cy="714.6" r="6"/><circle cx="794.8" cy="662.0" r="6"/><circle cx="796.7" cy="643.1" r="6"/><circle cx="787.9" cy="693.3" r="6"/><circle cx="785.6" cy="645.4" r="6"/><circle cx="792.9" cy="666.6" r="6"/><circle cx="802.4" cy="650.3" r="6"/><circle cx="798.8" cy="671.0" r="6"/><circle cx="798.9" cy="675.0" r="6"/><circle cx="796.0" cy="666.5" r="6"/><circle cx="786.7" cy="675.6" r="6"/><circle cx="798.8" cy="667.9" r="6"/><circle cx="786.8" cy="672.9" r="6"/><circle cx="784.0" cy="665.7" r="6"/><circle cx="794.0" cy="682.3" r="6"/><circle cx="794.5" cy="663.9" r="6"/><circle cx="782.5" cy="644.9" r="6"/><circle cx="789.1" cy="657.1" r="6"/><circle cx="793.9" cy="662.1" r="6"/><circle cx="798.0" cy="686.3" r="6"/><circle cx="795.9" cy="696.0" r="6"/><circle cx="793.0" cy="673.7" r="6"/><circle cx="788.5" cy="647.5" r="6"/><circle cx="798.7" cy="679.0" r="6"/><circle cx="784.1" cy="709.7" r="6"/><circle cx="794.2" cy="687.9" r="6"/><circle cx="791.2" cy="652.1" r="6"/><circle cx="803.0" cy="655.1" r="6"/><circle cx="789.7" cy="715.0" r="6"/><circle cx="784.6" cy="679.0" r="6"/><circle cx="792.1" cy="660.8" r="6"/><circle cx="801.4" cy="672.8" r="6"/><circle cx="782.2" cy="677.1" r="6"/><circle cx="782.1" cy="694.0" r="6"/><circle cx="800.2" cy="708.2" r="6"/><circle cx="783.0" cy="691.6" r="6"/><circle cx="788.4" cy="677.0" r="6"/><circle cx="788.3" cy="665.0" r="6"/><circle cx="784.8" cy="688.1" r="6"/><circle cx="783.9" cy="712.4" r="6"/><circle cx="782.9" cy="712.4" r="6"/><circle cx="786.0" cy="649.0" r="6"/><circle cx="708.9" cy="530.0" r="6"/><circle cx="709.2" cy="529.3" r="6"/><circle cx="707.6" cy="515.6" r="6"/><circle cx="708.1" cy="529.4" r="6"/><circle cx="711.5" cy="513.2" r="6"/><circle cx="700.8" cy="534.6" r="6"/><circle cx="711.1" cy="526.5" r="6"/><circle cx="708.5" cy="530.9" r="6"/><circle cx="704.7" cy="578.6" r="6"/><circle cx="707.2" cy="561.2" r="6"/><circle cx="703.7" cy="589.5" r="6"/><circle cx="703.1" cy="578.9" r="6"/><circle cx="703.1" cy="574.3" r="6"/><circle cx="707.8" cy="589.7" r="6"/><circle cx="711.5" cy="579.1" r="6"/><circle cx="702.4" cy="573.5" r="6"/><circle cx="700.7" cy="569.6" r="6"/><circle cx="706.8" cy="654.7" r="6"/><circle cx="701.6" cy="626.8" r="6"/><circle cx="699.5" cy="626.6" r="6"/><circle cx="705.5" cy="631.6" r="6"/><circle cx="711.3" cy="651.7" r="6"/><circle cx="703.1" cy="643.0" r="6"/><circle cx="698.6" cy="662.6" r="6"/><circle cx="709.3" cy="638.6" r="6"/><circle cx="708.9" cy="632.7" r="6"/><circle cx="701.3" cy="629.8" r="6"/><circle cx="701.0" cy="654.4" r="6"/><circle cx="707.6" cy="662.3" r="6"/><circle cx="669.7" cy="590.7" r="6"/><circle cx="675.7" cy="575.1" r="6"/><circle cx="676.0" cy="577.3" r="6"/><circle cx="671.2" cy="575.8" r="6"/><circle cx="678.3" cy="588.6" r="6"/><circle cx="682.6" cy="567.8" r="6"/><circle cx="682.3" cy="592.0" r="6"/><circle cx="679.4" cy="599.2" r="6"/><circle cx="127.6" cy="752.2" r="6"/><circle cx="147.4" cy="729.3" r="6"/><circle cx="139.5" cy="758.1" r="6"/><circle cx="131.6" cy="754.9" r="6"/><circle cx="147.6" cy="740.2" r="6"/><circle cx="127.8" cy="732.5" r="6"/><circle cx="145.6" cy="739.8" r="6"/><circle cx="132.2" cy="740.5" r="6"/><circle cx="148.1" cy="733.9" r="6"/><circle cx="124.5" cy="758.2" r="6"/><circle cx="132.2" cy="738.5" r="6"/><circle cx="149.4" cy="734.9" r="6"/><circle cx="141.7" cy="785.5" r="6"/><circle cx="144.9" cy="758.9" r="6"/><circle cx="158.8" cy="759.2" r="6"/><circle cx="158.0" cy="763.3" r="6"/><circle cx="146.1" cy="758.6" r="6"/><circle cx="150.8" cy="772.4" r="6"/><circle cx="148.0" cy="770.3" r="6"/><circle cx="146.0" cy="783.5" r="6"/><circle cx="158.7" cy="780.1" r="6"/><circle cx="156.4" cy="752.8" r="6"/><circle cx="231.0" cy="756.3" r="6"/><circle cx="227.6" cy="783.9" r="6"/><circle cx="254.6" cy="781.9" r="6"/><circle cx="242.1" cy="753.2" r="6"/><circle cx="237.4" cy="751.0" r="6"/><circle cx="254.6" cy="758.6" r="6"/><circle cx="232.4" cy="783.0" r="6"/><circle cx="229.2" cy="782.2" r="6"/><circle cx="233.2" cy="772.9" r="6"/><circle cx="225.8" cy="781.3" r="6"/><circle cx="272.0" cy="765.4" r="6"/><circle cx="279.6" cy="772.8" r="6"/><circle cx="267.5" cy="758.7" r="6"/><circle cx="277.3" cy="755.7" r="6"/><circle cx="286.1" cy="765.3" r="6"/><circle cx="265.1" cy="764.8" r="6"/><circle cx="263.4" cy="764.5" r="6"/><circle cx="276.3" cy="767.2" r="6"/><circle cx="270.0" cy="763.7" r="6"/><circle cx="274.6" cy="778.4" r="6"/><circle cx="311.3" cy="628.4" r="6"/><circle cx="312.2" cy="596.0" r="6"/><circle cx="306.2" cy="632.4" r="6"/><circle cx="312.1" cy="609.1" r="6"/><circle cx="312.8" cy="632.3" r="6"/><circle cx="310.1" cy="608.1" r="6"/><circle cx="310.0" cy="590.5" r="6"/><circle cx="313.4" cy="614.0" r="6"/><circle cx="312.4" cy="612.6" r="6"/><circle cx="312.0" cy="625.8" r="6"/><circle cx="327.8" cy="679.0" r="6"/><circle cx="326.7" cy="672.6" r="6"/><circle cx="327.6" cy="668.7" r="6"/><circle cx="328.9" cy="629.3" r="6"/><circle cx="333.1" cy="671.1" r="6"/><circle cx="337.7" cy="673.2" r="6"/><circle cx="339.7" cy="627.9" r="6"/><circle cx="330.7" cy="630.9" r="6"/><circle cx="336.3" cy="649.8" r="6"/><circle cx="336.2" cy="668.8" r="6"/><circle cx="365.0" cy="747.1" r="6"/><circle cx="362.5" cy="741.9" r="6"/><circle cx="346.6" cy="755.6" r="6"/><circle cx="346.8" cy="723.4" r="6"/><circle cx="361.6" cy="731.2" r="6"/><circle cx="358.2" cy="721.1" r="6"/><circle cx="349.2" cy="748.6" r="6"/><circle cx="345.8" cy="740.4" r="6"/><circle cx="391.0" cy="592.9" r="6"/><circle cx="387.3" cy="624.6" r="6"/><circle cx="385.9" cy="626.0" r="6"/><circle cx="387.2" cy="580.9" r="6"/><circle cx="379.1" cy="612.2" r="6"/><circle cx="391.5" cy="593.0" r="6"/><circle cx="385.4" cy="587.7" r="6"/><circle cx="389.5" cy="606.7" r="6"/><circle cx="410.4" cy="680.2" r="6"/><circle cx="402.7" cy="683.7" r="6"/><circle cx="416.0" cy="691.6" r="6"/><circle cx="405.6" cy="654.1" r="6"/><circle cx="403.3" cy="694.0" r="6"/><circle cx="408.8" cy="663.4" r="6"/><circle cx="410.4" cy="681.9" r="6"/><circle cx="406.4" cy="660.2" r="6"/><circle cx="415.3" cy="686.6" r="6"/><circle cx="405.9" cy="644.4" r="6"/><circle cx="497.8" cy="732.8" r="6"/><circle cx="487.8" cy="718.2" r="6"/><circle cx="498.8" cy="719.4" r="6"/><circle cx="476.5" cy="704.5" r="6"/><circle cx="480.5" cy="727.0" r="6"/><circle cx="480.9" cy="742.6" r="6"/><circle cx="489.5" cy="720.6" r="6"/><circle cx="489.8" cy="727.1" r="6"/><circle cx="488.5" cy="722.3" r="6"/><circle cx="485.7" cy="722.1" r="6"/><circle cx="533.3" cy="699.6" r="6"/><circle cx="531.4" cy="704.9" r="6"/><circle cx="534.0" cy="693.6" r="6"/><circle cx="519.4" cy="712.1" r="6"/><circle cx="528.5" cy="700.1" r="6"/><circle cx="510.5" cy="696.6" r="6"/><circle cx="522.5" cy="718.8" r="6"/><circle cx="500.0" cy="698.9" r="6"/><circle cx="508.0" cy="737.9" r="6"/><circle cx="518.2" cy="718.3" r="6"/><circle cx="511.6" cy="723.0" r="6"/><circle cx="532.5" cy="723.6" r="6"/><circle cx="572.0" cy="662.0" r="6"/><circle cx="580.8" cy="642.2" r="6"/><circle cx="586.2" cy="655.9" r="6"/><circle cx="577.3" cy="671.3" r="6"/><circle cx="582.5" cy="664.8" r="6"/><circle cx="587.5" cy="665.9" r="6"/><circle cx="578.2" cy="643.2" r="6"/><circle cx="582.0" cy="658.2" r="6"/><circle cx="581.7" cy="657.4" r="6"/><circle cx="572.1" cy="641.9" r="6"/><circle cx="592.4" cy="692.8" r="6"/><circle cx="602.8" cy="707.4" r="6"/><circle cx="593.6" cy="711.3" r="6"/><circle cx="599.5" cy="691.9" r="6"/><circle cx="601.3" cy="696.9" r="6"/><circle cx="605.0" cy="694.3" r="6"/><circle cx="625.0" cy="690.0" r="6"/><circle cx="645.2" cy="712.7" r="6"/><circle cx="635.3" cy="686.0" r="6"/><circle cx="630.0" cy="708.1" r="6"/><circle cx="617.0" cy="716.8" r="6"/><circle cx="644.4" cy="717.3" r="6"/><circle cx="639.5" cy="704.7" r="6"/><circle cx="649.1" cy="690.7" r="6"/><circle cx="625.7" cy="684.9" r="6"/><circle cx="621.3" cy="711.9" r="6"/><circle cx="618.3" cy="709.8" r="6"/><circle cx="628.9" cy="715.1" r="6"/><circle cx="680.4" cy="687.5" r="6"/><circle cx="683.8" cy="661.7" r="6"/><circle cx="660.6" cy="674.7" r="6"/><circle cx="667.2" cy="686.8" r="6"/><circle cx="685.2" cy="689.6" r="6"/><circle cx="687.1" cy="687.8" r="6"/><circle cx="664.3" cy="680.3" r="6"/><circle cx="679.9" cy="692.6" r="6"/><circle cx="664.8" cy="674.2" r="6"/><circle cx="674.6" cy="669.1" r="6"/><circle cx="685.3" cy="660.0" r="6"/><circle cx="675.9" cy="679.4" r="6"/><circle cx="847.8" cy="757.1" r="6"/><circle cx="859.0" cy="768.9" r="6"/><circle cx="875.4" cy="757.6" r="6"/><circle cx="874.9" cy="766.5" r="6"/><circle cx="846.6" cy="764.8" r="6"/><circle cx="873.3" cy="769.7" r="6"/><circle cx="870.4" cy="751.8" r="6"/><circle cx="848.3" cy="759.6" r="6"/><circle cx="848.4" cy="762.7" r="6"/><circle cx="863.0" cy="764.8" r="6"/><circle cx="890.7" cy="732.1" r="6"/><circle cx="907.1" cy="746.5" r="6"/><circle cx="891.3" cy="742.4" r="6"/><circle cx="893.1" cy="745.7" r="6"/><circle cx="895.5" cy="731.4" r="6"/><circle cx="909.4" cy="755.4" r="6"/><circle cx="902.8" cy="731.1" r="6"/><circle cx="885.8" cy="749.2" r="6"/><circle cx="904.7" cy="746.1" r="6"/><circle cx="886.4" cy="748.8" r="6"/></g><g fill="#00adbd" fill-opacity="0.5" stroke="#1a9eab" stroke-opacity="0.8" stroke-width="1.4"><circle cx="141.8" cy="728.0" r="5.8"/><circle cx="144.0" cy="733.7" r="5.8"/><circle cx="146.1" cy="756.4" r="5.8"/><circle cx="157.4" cy="708.3" r="5.8"/><circle cx="143.4" cy="770.9" r="5.8"/><circle cx="146.3" cy="743.5" r="5.8"/><circle cx="153.0" cy="702.3" r="5.8"/><circle cx="151.0" cy="746.7" r="5.8"/><circle cx="143.9" cy="723.3" r="5.8"/><circle cx="145.1" cy="709.4" r="5.8"/><circle cx="141.9" cy="719.3" r="5.8"/><circle cx="155.7" cy="760.4" r="5.8"/><circle cx="140.1" cy="756.6" r="5.8"/><circle cx="137.1" cy="739.3" r="5.8"/><circle cx="129.5" cy="764.3" r="5.8"/><circle cx="150.0" cy="757.0" r="5.8"/><circle cx="126.8" cy="761.5" r="5.8"/><circle cx="124.4" cy="742.4" r="5.8"/><circle cx="140.6" cy="704.4" r="5.8"/><circle cx="138.3" cy="766.5" r="5.8"/><circle cx="145.2" cy="723.6" r="5.8"/><circle cx="151.7" cy="726.7" r="5.8"/><circle cx="154.5" cy="730.1" r="5.8"/><circle cx="126.6" cy="772.9" r="5.8"/><circle cx="126.4" cy="719.0" r="5.8"/><circle cx="150.2" cy="708.6" r="5.8"/><circle cx="235.3" cy="777.0" r="5.8"/><circle cx="241.8" cy="747.8" r="5.8"/><circle cx="265.6" cy="775.1" r="5.8"/><circle cx="240.3" cy="763.7" r="5.8"/><circle cx="203.8" cy="751.2" r="5.8"/><circle cx="298.8" cy="783.4" r="5.8"/><circle cx="158.2" cy="739.2" r="5.8"/><circle cx="190.0" cy="773.2" r="5.8"/><circle cx="186.5" cy="737.7" r="5.8"/><circle cx="266.8" cy="737.6" r="5.8"/><circle cx="296.8" cy="754.0" r="5.8"/><circle cx="285.6" cy="774.7" r="5.8"/><circle cx="187.4" cy="772.8" r="5.8"/><circle cx="216.9" cy="740.7" r="5.8"/><circle cx="164.5" cy="768.1" r="5.8"/><circle cx="237.7" cy="745.3" r="5.8"/><circle cx="276.3" cy="739.2" r="5.8"/><circle cx="221.2" cy="733.0" r="5.8"/><circle cx="207.8" cy="778.4" r="5.8"/><circle cx="229.0" cy="736.8" r="5.8"/><circle cx="191.6" cy="764.7" r="5.8"/><circle cx="197.4" cy="778.6" r="5.8"/><circle cx="166.6" cy="777.5" r="5.8"/><circle cx="246.3" cy="774.9" r="5.8"/><circle cx="208.3" cy="731.9" r="5.8"/><circle cx="182.4" cy="763.7" r="5.8"/><circle cx="161.7" cy="734.3" r="5.8"/><circle cx="269.1" cy="778.0" r="5.8"/><circle cx="279.6" cy="775.7" r="5.8"/><circle cx="236.8" cy="777.9" r="5.8"/><circle cx="257.1" cy="759.8" r="5.8"/><circle cx="218.4" cy="729.4" r="5.8"/><circle cx="170.7" cy="742.2" r="5.8"/><circle cx="223.4" cy="734.9" r="5.8"/><circle cx="321.4" cy="587.3" r="5.8"/><circle cx="316.3" cy="596.8" r="5.8"/><circle cx="305.0" cy="596.6" r="5.8"/><circle cx="321.1" cy="578.0" r="5.8"/><circle cx="302.8" cy="594.0" r="5.8"/><circle cx="319.6" cy="594.0" r="5.8"/><circle cx="312.5" cy="712.3" r="5.8"/><circle cx="296.3" cy="668.1" r="5.8"/><circle cx="313.0" cy="729.4" r="5.8"/><circle cx="294.9" cy="751.4" r="5.8"/><circle cx="291.6" cy="756.4" r="5.8"/><circle cx="303.0" cy="738.3" r="5.8"/><circle cx="335.0" cy="754.5" r="5.8"/><circle cx="315.9" cy="723.9" r="5.8"/><circle cx="306.1" cy="739.9" r="5.8"/><circle cx="296.0" cy="746.0" r="5.8"/><circle cx="322.6" cy="647.4" r="5.8"/><circle cx="341.8" cy="677.9" r="5.8"/><circle cx="293.7" cy="671.1" r="5.8"/><circle cx="291.5" cy="673.8" r="5.8"/><circle cx="329.0" cy="758.6" r="5.8"/><circle cx="324.7" cy="742.5" r="5.8"/><circle cx="366.3" cy="734.3" r="5.8"/><circle cx="352.3" cy="692.7" r="5.8"/><circle cx="345.0" cy="719.2" r="5.8"/><circle cx="346.5" cy="736.6" r="5.8"/><circle cx="350.3" cy="722.1" r="5.8"/><circle cx="357.5" cy="726.5" r="5.8"/><circle cx="345.0" cy="693.1" r="5.8"/><circle cx="362.0" cy="689.2" r="5.8"/><circle cx="361.5" cy="756.9" r="5.8"/><circle cx="352.5" cy="756.5" r="5.8"/><circle cx="359.7" cy="755.0" r="5.8"/><circle cx="356.8" cy="737.8" r="5.8"/><circle cx="361.8" cy="687.6" r="5.8"/><circle cx="356.6" cy="722.3" r="5.8"/><circle cx="372.2" cy="556.2" r="5.8"/><circle cx="382.0" cy="565.6" r="5.8"/><circle cx="379.9" cy="520.0" r="5.8"/><circle cx="377.5" cy="553.9" r="5.8"/><circle cx="382.6" cy="510.2" r="5.8"/><circle cx="365.8" cy="578.3" r="5.8"/><circle cx="370.2" cy="559.4" r="5.8"/><circle cx="375.0" cy="537.9" r="5.8"/><circle cx="371.6" cy="549.4" r="5.8"/><circle cx="383.7" cy="547.3" r="5.8"/><circle cx="379.4" cy="531.2" r="5.8"/><circle cx="377.7" cy="552.3" r="5.8"/><circle cx="413.8" cy="673.7" r="5.8"/><circle cx="397.9" cy="685.6" r="5.8"/><circle cx="410.6" cy="590.1" r="5.8"/><circle cx="407.1" cy="568.1" r="5.8"/><circle cx="401.5" cy="668.1" r="5.8"/><circle cx="413.1" cy="672.0" r="5.8"/><circle cx="399.9" cy="569.6" r="5.8"/><circle cx="405.1" cy="621.9" r="5.8"/><circle cx="413.1" cy="595.3" r="5.8"/><circle cx="413.7" cy="633.9" r="5.8"/><circle cx="402.9" cy="661.3" r="5.8"/><circle cx="397.8" cy="634.9" r="5.8"/><circle cx="400.5" cy="560.8" r="5.8"/><circle cx="407.5" cy="625.2" r="5.8"/><circle cx="410.7" cy="605.7" r="5.8"/><circle cx="418.3" cy="660.9" r="5.8"/><circle cx="399.7" cy="555.6" r="5.8"/><circle cx="419.1" cy="610.5" r="5.8"/><circle cx="409.5" cy="654.2" r="5.8"/><circle cx="435.1" cy="654.1" r="5.8"/><circle cx="421.0" cy="694.1" r="5.8"/><circle cx="420.1" cy="692.3" r="5.8"/><circle cx="445.8" cy="703.4" r="5.8"/><circle cx="432.0" cy="690.1" r="5.8"/><circle cx="418.3" cy="691.2" r="5.8"/><circle cx="432.9" cy="687.0" r="5.8"/><circle cx="426.1" cy="700.1" r="5.8"/><circle cx="413.8" cy="697.1" r="5.8"/><circle cx="447.1" cy="642.9" r="5.8"/><circle cx="415.8" cy="718.9" r="5.8"/><circle cx="408.5" cy="705.4" r="5.8"/><circle cx="430.0" cy="645.6" r="5.8"/><circle cx="432.1" cy="640.6" r="5.8"/><circle cx="441.5" cy="664.2" r="5.8"/><circle cx="444.7" cy="711.8" r="5.8"/><circle cx="410.9" cy="672.2" r="5.8"/><circle cx="427.6" cy="739.4" r="5.8"/><circle cx="424.8" cy="681.3" r="5.8"/><circle cx="425.8" cy="748.0" r="5.8"/><circle cx="432.4" cy="702.5" r="5.8"/><circle cx="442.3" cy="721.9" r="5.8"/><circle cx="440.7" cy="755.5" r="5.8"/><circle cx="437.0" cy="715.5" r="5.8"/><circle cx="463.1" cy="695.7" r="5.8"/><circle cx="428.7" cy="746.1" r="5.8"/><circle cx="435.8" cy="750.8" r="5.8"/><circle cx="461.1" cy="706.7" r="5.8"/><circle cx="436.6" cy="683.6" r="5.8"/><circle cx="463.7" cy="712.6" r="5.8"/><circle cx="437.1" cy="690.0" r="5.8"/><circle cx="479.5" cy="737.4" r="5.8"/><circle cx="475.5" cy="705.5" r="5.8"/><circle cx="496.2" cy="702.0" r="5.8"/><circle cx="491.1" cy="689.7" r="5.8"/><circle cx="478.0" cy="732.1" r="5.8"/><circle cx="507.7" cy="706.4" r="5.8"/><circle cx="480.6" cy="741.2" r="5.8"/><circle cx="478.5" cy="667.1" r="5.8"/><circle cx="496.3" cy="733.1" r="5.8"/><circle cx="494.0" cy="661.0" r="5.8"/><circle cx="511.1" cy="665.6" r="5.8"/><circle cx="484.4" cy="748.8" r="5.8"/><circle cx="503.3" cy="725.6" r="5.8"/><circle cx="473.2" cy="735.2" r="5.8"/><circle cx="528.0" cy="690.5" r="5.8"/><circle cx="545.5" cy="731.9" r="5.8"/><circle cx="512.1" cy="710.4" r="5.8"/><circle cx="550.6" cy="705.0" r="5.8"/><circle cx="523.6" cy="725.1" r="5.8"/><circle cx="529.9" cy="734.9" r="5.8"/><circle cx="548.5" cy="728.6" r="5.8"/><circle cx="541.8" cy="698.8" r="5.8"/><circle cx="540.9" cy="716.0" r="5.8"/><circle cx="531.7" cy="715.5" r="5.8"/><circle cx="558.1" cy="538.2" r="5.8"/><circle cx="570.2" cy="553.8" r="5.8"/><circle cx="554.1" cy="609.8" r="5.8"/><circle cx="562.2" cy="582.2" r="5.8"/><circle cx="558.8" cy="533.7" r="5.8"/><circle cx="558.6" cy="596.7" r="5.8"/><circle cx="557.5" cy="603.9" r="5.8"/><circle cx="558.1" cy="602.5" r="5.8"/><circle cx="555.6" cy="560.8" r="5.8"/><circle cx="554.6" cy="533.7" r="5.8"/><circle cx="585.7" cy="615.6" r="5.8"/><circle cx="586.1" cy="605.1" r="5.8"/><circle cx="579.3" cy="612.5" r="5.8"/><circle cx="596.9" cy="595.7" r="5.8"/><circle cx="582.5" cy="649.8" r="5.8"/><circle cx="587.2" cy="607.9" r="5.8"/><circle cx="599.9" cy="597.6" r="5.8"/><circle cx="574.1" cy="591.2" r="5.8"/><circle cx="583.2" cy="650.1" r="5.8"/><circle cx="578.5" cy="610.0" r="5.8"/><circle cx="593.9" cy="595.4" r="5.8"/><circle cx="570.5" cy="636.4" r="5.8"/><circle cx="572.6" cy="626.9" r="5.8"/><circle cx="574.3" cy="632.1" r="5.8"/><circle cx="615.2" cy="563.2" r="5.8"/><circle cx="596.7" cy="582.4" r="5.8"/><circle cx="610.4" cy="518.4" r="5.8"/><circle cx="595.7" cy="554.6" r="5.8"/><circle cx="604.2" cy="542.9" r="5.8"/><circle cx="609.1" cy="540.9" r="5.8"/><circle cx="617.0" cy="551.7" r="5.8"/><circle cx="595.1" cy="520.9" r="5.8"/><circle cx="592.1" cy="536.4" r="5.8"/><circle cx="616.2" cy="559.1" r="5.8"/><circle cx="602.2" cy="620.4" r="5.8"/><circle cx="618.9" cy="598.5" r="5.8"/><circle cx="595.7" cy="549.0" r="5.8"/><circle cx="604.2" cy="541.2" r="5.8"/><circle cx="613.0" cy="640.9" r="5.8"/><circle cx="610.5" cy="681.2" r="5.8"/><circle cx="618.9" cy="658.4" r="5.8"/><circle cx="615.8" cy="671.0" r="5.8"/><circle cx="620.7" cy="626.7" r="5.8"/><circle cx="624.4" cy="659.7" r="5.8"/><circle cx="612.9" cy="696.9" r="5.8"/><circle cx="622.4" cy="651.3" r="5.8"/><circle cx="605.6" cy="657.8" r="5.8"/><circle cx="615.1" cy="653.1" r="5.8"/><circle cx="632.7" cy="555.0" r="5.8"/><circle cx="640.2" cy="579.0" r="5.8"/><circle cx="653.4" cy="518.1" r="5.8"/><circle cx="667.7" cy="538.2" r="5.8"/><circle cx="632.1" cy="516.4" r="5.8"/><circle cx="630.5" cy="535.8" r="5.8"/><circle cx="671.6" cy="602.2" r="5.8"/><circle cx="659.3" cy="500.1" r="5.8"/><circle cx="639.5" cy="506.4" r="5.8"/><circle cx="645.9" cy="563.0" r="5.8"/><circle cx="629.1" cy="543.6" r="5.8"/><circle cx="648.4" cy="566.0" r="5.8"/><circle cx="667.7" cy="531.6" r="5.8"/><circle cx="656.9" cy="515.4" r="5.8"/><circle cx="649.8" cy="562.6" r="5.8"/><circle cx="630.5" cy="546.8" r="5.8"/><circle cx="652.1" cy="503.9" r="5.8"/><circle cx="639.9" cy="587.1" r="5.8"/><circle cx="644.8" cy="505.0" r="5.8"/><circle cx="641.7" cy="547.8" r="5.8"/><circle cx="647.1" cy="525.6" r="5.8"/><circle cx="643.5" cy="508.2" r="5.8"/><circle cx="652.2" cy="558.0" r="5.8"/><circle cx="632.3" cy="556.8" r="5.8"/><circle cx="662.3" cy="688.1" r="5.8"/><circle cx="687.5" cy="611.8" r="5.8"/><circle cx="677.9" cy="631.1" r="5.8"/><circle cx="654.4" cy="678.8" r="5.8"/><circle cx="686.3" cy="670.8" r="5.8"/><circle cx="675.5" cy="688.0" r="5.8"/><circle cx="672.2" cy="660.8" r="5.8"/><circle cx="676.1" cy="677.3" r="5.8"/><circle cx="684.2" cy="627.4" r="5.8"/><circle cx="658.3" cy="649.1" r="5.8"/><circle cx="673.6" cy="631.8" r="5.8"/><circle cx="684.4" cy="676.4" r="5.8"/><circle cx="677.5" cy="648.2" r="5.8"/><circle cx="677.8" cy="617.6" r="5.8"/><circle cx="711.0" cy="522.8" r="5.8"/><circle cx="713.5" cy="592.6" r="5.8"/><circle cx="697.2" cy="531.7" r="5.8"/><circle cx="705.6" cy="569.9" r="5.8"/><circle cx="708.1" cy="518.7" r="5.8"/><circle cx="712.8" cy="565.1" r="5.8"/><circle cx="701.4" cy="608.4" r="5.8"/><circle cx="705.8" cy="567.3" r="5.8"/><circle cx="697.6" cy="570.2" r="5.8"/><circle cx="690.8" cy="540.8" r="5.8"/><circle cx="711.5" cy="521.8" r="5.8"/><circle cx="692.2" cy="623.7" r="5.8"/><circle cx="699.7" cy="579.2" r="5.8"/><circle cx="705.3" cy="605.5" r="5.8"/><circle cx="698.3" cy="612.8" r="5.8"/><circle cx="690.0" cy="623.6" r="5.8"/><circle cx="755.8" cy="690.6" r="5.8"/><circle cx="755.6" cy="698.7" r="5.8"/><circle cx="758.2" cy="689.2" r="5.8"/><circle cx="756.2" cy="704.1" r="5.8"/><circle cx="772.2" cy="663.1" r="5.8"/><circle cx="771.5" cy="711.3" r="5.8"/><circle cx="753.3" cy="662.4" r="5.8"/><circle cx="777.6" cy="712.6" r="5.8"/><circle cx="749.5" cy="700.4" r="5.8"/><circle cx="777.6" cy="667.1" r="5.8"/><circle cx="772.3" cy="669.3" r="5.8"/><circle cx="772.6" cy="683.0" r="5.8"/><circle cx="792.3" cy="616.7" r="5.8"/><circle cx="797.0" cy="638.6" r="5.8"/><circle cx="787.6" cy="613.7" r="5.8"/><circle cx="782.4" cy="621.9" r="5.8"/><circle cx="805.9" cy="640.3" r="5.8"/><circle cx="803.3" cy="640.5" r="5.8"/><circle cx="783.5" cy="626.7" r="5.8"/><circle cx="804.7" cy="644.4" r="5.8"/><circle cx="879.4" cy="771.9" r="5.8"/><circle cx="858.3" cy="769.3" r="5.8"/><circle cx="873.6" cy="754.3" r="5.8"/><circle cx="807.5" cy="749.1" r="5.8"/><circle cx="806.0" cy="747.3" r="5.8"/><circle cx="849.2" cy="747.4" r="5.8"/><circle cx="823.6" cy="739.3" r="5.8"/><circle cx="831.9" cy="758.2" r="5.8"/><circle cx="849.3" cy="777.4" r="5.8"/><circle cx="810.3" cy="746.5" r="5.8"/><circle cx="810.8" cy="776.9" r="5.8"/><circle cx="852.4" cy="764.5" r="5.8"/><circle cx="866.0" cy="735.1" r="5.8"/><circle cx="872.8" cy="750.0" r="5.8"/><circle cx="852.1" cy="753.2" r="5.8"/><circle cx="860.9" cy="748.6" r="5.8"/><circle cx="874.4" cy="682.5" r="5.8"/><circle cx="897.7" cy="701.0" r="5.8"/><circle cx="868.1" cy="692.0" r="5.8"/><circle cx="889.5" cy="693.5" r="5.8"/><circle cx="890.8" cy="735.9" r="5.8"/><circle cx="893.3" cy="732.1" r="5.8"/><circle cx="875.8" cy="738.3" r="5.8"/><circle cx="908.9" cy="707.7" r="5.8"/><circle cx="861.2" cy="667.7" r="5.8"/><circle cx="899.4" cy="738.1" r="5.8"/><circle cx="897.7" cy="705.7" r="5.8"/><circle cx="888.1" cy="670.4" r="5.8"/><circle cx="891.1" cy="750.0" r="5.8"/><circle cx="870.7" cy="714.9" r="5.8"/><circle cx="904.2" cy="718.5" r="5.8"/><circle cx="878.2" cy="681.4" r="5.8"/><circle cx="898.1" cy="743.5" r="5.8"/><circle cx="905.6" cy="696.1" r="5.8"/><circle cx="564.4" cy="474.4" r="5.8"/><circle cx="391.0" cy="441.0" r="5.8"/><circle cx="400.5" cy="424.4" r="5.8"/><circle cx="641.0" cy="480.0" r="5.8"/><circle cx="644.0" cy="493.0" r="5.8"/><circle cx="396.0" cy="560.0" r="5.8"/><circle cx="700.0" cy="540.0" r="5.8"/><circle cx="705.0" cy="520.0" r="5.8"/><circle cx="735.0" cy="455.0" r="5.8"/></g>
<polygon points="145.0,1732.0 145.0,1700.0 150.0,1692.0 160.0,1688.0 215.0,1686.0 260.0,1682.0 300.0,1684.0 365.0,1684.0 372.0,1650.0 378.0,1640.0 395.0,1640.0 400.0,1632.0 410.0,1630.0 450.0,1630.0 470.0,1655.0 537.0,1660.0 540.0,1640.0 560.0,1630.0 600.0,1630.0 640.0,1640.0 660.0,1655.0 662.0,1676.0 680.0,1676.0 682.0,1650.0 715.0,1640.0 740.0,1634.0 760.0,1630.0 785.0,1650.0 800.0,1662.0 830.0,1686.0 860.0,1692.0 862.0,1707.0 880.0,1707.0 882.0,1688.0 905.0,1688.0 907.0,1670.0 928.0,1670.0 934.0,1707.0 936.0,1732.0" fill="#00adbd"/><g fill="#00adbd"><circle cx="145.5" cy="1702.5" r="6"/><circle cx="151.2" cy="1695.7" r="6"/><circle cx="161.0" cy="1691.5" r="6"/><circle cx="164.2" cy="1688.6" r="6"/><circle cx="174.0" cy="1689.4" r="6"/><circle cx="179.9" cy="1686.0" r="6"/><circle cx="184.3" cy="1686.6" r="6"/><circle cx="190.7" cy="1688.3" r="6"/><circle cx="194.7" cy="1686.0" r="6"/><circle cx="201.9" cy="1689.9" r="6"/><circle cx="210.0" cy="1685.2" r="6"/><circle cx="216.2" cy="1684.8" r="6"/><circle cx="221.9" cy="1684.2" r="6"/><circle cx="225.9" cy="1688.1" r="6"/><circle cx="233.1" cy="1683.6" r="6"/><circle cx="242.6" cy="1686.9" r="6"/><circle cx="246.3" cy="1686.9" r="6"/><circle cx="253.7" cy="1684.6" r="6"/><circle cx="258.8" cy="1685.6" r="6"/><circle cx="267.4" cy="1686.1" r="6"/><circle cx="274.9" cy="1682.5" r="6"/><circle cx="279.4" cy="1682.0" r="6"/><circle cx="285.2" cy="1681.7" r="6"/><circle cx="292.5" cy="1685.3" r="6"/><circle cx="298.0" cy="1686.1" r="6"/><circle cx="305.9" cy="1683.9" r="6"/><circle cx="314.3" cy="1684.9" r="6"/><circle cx="318.8" cy="1684.9" r="6"/><circle cx="326.8" cy="1682.3" r="6"/><circle cx="334.4" cy="1682.1" r="6"/><circle cx="340.0" cy="1687.1" r="6"/><circle cx="343.6" cy="1686.7" r="6"/><circle cx="351.5" cy="1685.5" r="6"/><circle cx="356.5" cy="1682.3" r="6"/><circle cx="363.7" cy="1687.7" r="6"/><circle cx="365.2" cy="1679.7" r="6"/><circle cx="369.5" cy="1674.1" r="6"/><circle cx="368.6" cy="1663.7" r="6"/><circle cx="370.7" cy="1659.5" r="6"/><circle cx="370.4" cy="1652.5" r="6"/><circle cx="379.2" cy="1643.2" r="6"/><circle cx="384.6" cy="1643.7" r="6"/><circle cx="393.4" cy="1640.0" r="6"/><circle cx="400.4" cy="1635.5" r="6"/><circle cx="409.4" cy="1633.5" r="6"/><circle cx="416.8" cy="1629.9" r="6"/><circle cx="422.6" cy="1629.1" r="6"/><circle cx="428.3" cy="1628.9" r="6"/><circle cx="437.4" cy="1634.0" r="6"/><circle cx="442.0" cy="1628.3" r="6"/><circle cx="451.9" cy="1631.2" r="6"/><circle cx="453.6" cy="1634.4" r="6"/><circle cx="458.4" cy="1643.0" r="6"/><circle cx="461.8" cy="1645.5" r="6"/><circle cx="464.2" cy="1653.5" r="6"/><circle cx="468.1" cy="1656.0" r="6"/><circle cx="477.4" cy="1654.2" r="6"/><circle cx="483.1" cy="1659.6" r="6"/><circle cx="488.8" cy="1659.1" r="6"/><circle cx="492.8" cy="1657.4" r="6"/><circle cx="499.1" cy="1660.3" r="6"/><circle cx="505.7" cy="1658.4" r="6"/><circle cx="514.6" cy="1661.3" r="6"/><circle cx="520.6" cy="1659.4" r="6"/><circle cx="524.8" cy="1661.5" r="6"/><circle cx="530.8" cy="1659.3" r="6"/><circle cx="536.6" cy="1658.9" r="6"/><circle cx="537.5" cy="1657.3" r="6"/><circle cx="540.8" cy="1648.4" r="6"/><circle cx="540.0" cy="1640.0" r="6"/><circle cx="545.0" cy="1636.3" r="6"/><circle cx="554.5" cy="1636.5" r="6"/><circle cx="559.4" cy="1632.7" r="6"/><circle cx="567.8" cy="1632.2" r="6"/><circle cx="574.0" cy="1632.6" r="6"/><circle cx="579.5" cy="1632.2" r="6"/><circle cx="585.8" cy="1630.9" r="6"/><circle cx="594.4" cy="1632.1" r="6"/><circle cx="599.2" cy="1633.7" r="6"/><circle cx="607.3" cy="1633.2" r="6"/><circle cx="611.4" cy="1634.6" r="6"/><circle cx="619.0" cy="1637.0" r="6"/><circle cx="626.5" cy="1639.6" r="6"/><circle cx="633.9" cy="1641.1" r="6"/><circle cx="639.4" cy="1641.9" r="6"/><circle cx="646.0" cy="1646.7" r="6"/><circle cx="649.4" cy="1650.6" r="6"/><circle cx="656.5" cy="1653.4" r="6"/><circle cx="661.9" cy="1658.7" r="6"/><circle cx="660.7" cy="1663.2" r="6"/><circle cx="660.0" cy="1672.0" r="6"/><circle cx="663.7" cy="1676.9" r="6"/><circle cx="668.8" cy="1678.3" r="6"/><circle cx="674.9" cy="1675.0" r="6"/><circle cx="681.1" cy="1677.5" r="6"/><circle cx="681.2" cy="1670.0" r="6"/><circle cx="681.5" cy="1665.6" r="6"/><circle cx="682.0" cy="1658.8" r="6"/><circle cx="680.1" cy="1649.0" r="6"/><circle cx="688.4" cy="1649.9" r="6"/><circle cx="694.1" cy="1648.1" r="6"/><circle cx="702.3" cy="1642.3" r="6"/><circle cx="708.3" cy="1641.4" r="6"/><circle cx="713.2" cy="1638.8" r="6"/><circle cx="720.5" cy="1637.6" r="6"/><circle cx="726.3" cy="1635.2" r="6"/><circle cx="733.6" cy="1635.8" r="6"/><circle cx="740.4" cy="1635.5" r="6"/><circle cx="745.6" cy="1636.1" r="6"/><circle cx="751.3" cy="1631.8" r="6"/><circle cx="759.1" cy="1630.5" r="6"/><circle cx="763.5" cy="1637.0" r="6"/><circle cx="769.5" cy="1636.2" r="6"/><circle cx="775.5" cy="1640.6" r="6"/><circle cx="780.2" cy="1646.0" r="6"/><circle cx="785.3" cy="1653.7" r="6"/><circle cx="791.3" cy="1654.5" r="6"/><circle cx="796.3" cy="1659.9" r="6"/><circle cx="799.5" cy="1660.9" r="6"/><circle cx="805.4" cy="1667.4" r="6"/><circle cx="811.8" cy="1673.8" r="6"/><circle cx="815.4" cy="1674.1" r="6"/><circle cx="821.6" cy="1676.0" r="6"/><circle cx="823.4" cy="1683.4" r="6"/><circle cx="830.5" cy="1684.8" r="6"/><circle cx="836.5" cy="1690.5" r="6"/><circle cx="841.5" cy="1689.0" r="6"/><circle cx="846.9" cy="1689.3" r="6"/><circle cx="855.9" cy="1691.1" r="6"/><circle cx="861.8" cy="1695.5" r="6"/><circle cx="861.4" cy="1699.1" r="6"/><circle cx="863.9" cy="1708.0" r="6"/><circle cx="867.7" cy="1706.9" r="6"/><circle cx="875.9" cy="1708.0" r="6"/><circle cx="879.1" cy="1707.9" r="6"/><circle cx="879.2" cy="1702.4" r="6"/><circle cx="881.1" cy="1694.1" r="6"/><circle cx="883.1" cy="1691.0" r="6"/><circle cx="887.7" cy="1689.2" r="6"/><circle cx="896.4" cy="1691.6" r="6"/><circle cx="906.1" cy="1687.5" r="6"/><circle cx="904.7" cy="1680.9" r="6"/><circle cx="908.3" cy="1675.8" r="6"/><circle cx="907.4" cy="1670.8" r="6"/><circle cx="914.6" cy="1671.6" r="6"/><circle cx="922.0" cy="1668.7" r="6"/><circle cx="929.0" cy="1669.8" r="6"/><circle cx="929.1" cy="1676.2" r="6"/><circle cx="929.2" cy="1683.5" r="6"/><circle cx="930.9" cy="1688.7" r="6"/><circle cx="933.0" cy="1696.2" r="6"/><circle cx="931.1" cy="1700.3" r="6"/></g><rect x="378.0" y="1585.0" width="14.0" height="55.0" fill="#00adbd"/><rect x="403.0" y="1465.0" width="4.0" height="165.0" fill="#00adbd"/><rect x="539.0" y="1424.0" width="20.0" height="206.0" fill="#00adbd"/><rect x="583.0" y="1444.0" width="10.0" height="186.0" fill="#00adbd"/><rect x="693.0" y="1456.0" width="14.0" height="194.0" fill="#00adbd"/><rect x="743.0" y="1594.0" width="16.0" height="46.0" fill="#00adbd"/><g fill="#00adbd" fill-opacity="0.75" stroke="#1a9eab" stroke-opacity="0.6" stroke-width="1.2"><circle cx="384.1" cy="1634.9" r="6"/><circle cx="392.8" cy="1612.3" r="6"/><circle cx="375.3" cy="1626.5" r="6"/><circle cx="383.6" cy="1614.1" r="6"/><circle cx="389.2" cy="1617.6" r="6"/><circle cx="384.6" cy="1634.6" r="6"/><circle cx="382.7" cy="1602.9" r="6"/><circle cx="392.0" cy="1591.0" r="6"/><circle cx="380.9" cy="1629.6" r="6"/><circle cx="376.3" cy="1630.0" r="6"/><circle cx="388.9" cy="1605.4" r="6"/><circle cx="380.7" cy="1626.6" r="6"/><circle cx="393.2" cy="1587.7" r="6"/><circle cx="384.6" cy="1612.5" r="6"/><circle cx="385.0" cy="1599.2" r="6"/><circle cx="378.1" cy="1614.7" r="6"/><circle cx="391.2" cy="1583.2" r="6"/><circle cx="379.6" cy="1629.0" r="6"/><circle cx="390.8" cy="1619.5" r="6"/><circle cx="375.5" cy="1623.1" r="6"/><circle cx="394.6" cy="1639.9" r="6"/><circle cx="389.0" cy="1582.0" r="6"/><circle cx="391.8" cy="1592.4" r="6"/><circle cx="387.9" cy="1637.1" r="6"/><circle cx="389.2" cy="1587.2" r="6"/><circle cx="380.8" cy="1635.0" r="6"/><circle cx="378.0" cy="1616.2" r="6"/><circle cx="383.3" cy="1588.8" r="6"/><circle cx="387.4" cy="1581.7" r="6"/><circle cx="377.2" cy="1602.1" r="6"/><circle cx="376.4" cy="1582.5" r="6"/><circle cx="386.5" cy="1624.3" r="6"/><circle cx="392.6" cy="1587.2" r="6"/><circle cx="383.6" cy="1598.2" r="6"/><circle cx="387.0" cy="1608.9" r="6"/><circle cx="393.8" cy="1601.8" r="6"/><circle cx="376.1" cy="1621.5" r="6"/><circle cx="378.0" cy="1617.5" r="6"/><circle cx="385.1" cy="1634.5" r="6"/><circle cx="405.5" cy="1565.2" r="6"/><circle cx="402.6" cy="1553.3" r="6"/><circle cx="402.5" cy="1587.3" r="6"/><circle cx="405.2" cy="1481.9" r="6"/><circle cx="402.3" cy="1522.5" r="6"/><circle cx="407.4" cy="1489.7" r="6"/><circle cx="407.1" cy="1571.0" r="6"/><circle cx="400.9" cy="1573.2" r="6"/><circle cx="400.9" cy="1480.3" r="6"/><circle cx="405.9" cy="1499.8" r="6"/><circle cx="408.8" cy="1541.2" r="6"/><circle cx="403.2" cy="1595.2" r="6"/><circle cx="400.3" cy="1583.0" r="6"/><circle cx="400.5" cy="1484.8" r="6"/><circle cx="409.5" cy="1575.5" r="6"/><circle cx="402.2" cy="1478.8" r="6"/><circle cx="409.7" cy="1572.7" r="6"/><circle cx="408.2" cy="1482.9" r="6"/><circle cx="406.2" cy="1519.6" r="6"/><circle cx="402.4" cy="1516.0" r="6"/><circle cx="406.1" cy="1518.6" r="6"/><circle cx="403.9" cy="1482.3" r="6"/><circle cx="408.3" cy="1569.8" r="6"/><circle cx="408.0" cy="1533.1" r="6"/><circle cx="408.5" cy="1547.5" r="6"/><circle cx="405.9" cy="1557.0" r="6"/><circle cx="407.4" cy="1526.6" r="6"/><circle cx="401.0" cy="1464.7" r="6"/><circle cx="402.0" cy="1465.7" r="6"/><circle cx="408.9" cy="1541.2" r="6"/><circle cx="407.6" cy="1459.1" r="6"/><circle cx="404.7" cy="1611.2" r="6"/><circle cx="406.2" cy="1532.3" r="6"/><circle cx="404.7" cy="1476.1" r="6"/><circle cx="401.5" cy="1486.2" r="6"/><circle cx="403.7" cy="1524.9" r="6"/><circle cx="408.8" cy="1485.0" r="6"/><circle cx="402.5" cy="1506.4" r="6"/><circle cx="401.6" cy="1508.1" r="6"/><circle cx="402.4" cy="1541.4" r="6"/><circle cx="400.3" cy="1617.1" r="6"/><circle cx="403.7" cy="1619.4" r="6"/><circle cx="406.9" cy="1574.2" r="6"/><circle cx="404.7" cy="1620.7" r="6"/><circle cx="401.2" cy="1573.3" r="6"/><circle cx="402.9" cy="1574.3" r="6"/><circle cx="407.3" cy="1486.9" r="6"/><circle cx="402.0" cy="1463.3" r="6"/><circle cx="402.3" cy="1472.4" r="6"/><circle cx="404.0" cy="1625.5" r="6"/><circle cx="403.6" cy="1512.3" r="6"/><circle cx="404.7" cy="1507.4" r="6"/><circle cx="407.3" cy="1581.8" r="6"/><circle cx="401.6" cy="1500.1" r="6"/><circle cx="406.7" cy="1619.8" r="6"/><circle cx="406.5" cy="1532.6" r="6"/><circle cx="409.8" cy="1460.1" r="6"/><circle cx="400.6" cy="1592.3" r="6"/><circle cx="546.7" cy="1427.5" r="6"/><circle cx="550.3" cy="1627.8" r="6"/><circle cx="549.5" cy="1492.2" r="6"/><circle cx="538.4" cy="1433.1" r="6"/><circle cx="559.4" cy="1522.1" r="6"/><circle cx="560.3" cy="1429.4" r="6"/><circle cx="542.3" cy="1428.7" r="6"/><circle cx="546.3" cy="1430.7" r="6"/><circle cx="542.6" cy="1504.4" r="6"/><circle cx="544.0" cy="1428.9" r="6"/><circle cx="537.0" cy="1624.0" r="6"/><circle cx="540.7" cy="1525.8" r="6"/><circle cx="546.5" cy="1530.6" r="6"/><circle cx="538.2" cy="1484.5" r="6"/><circle cx="538.8" cy="1532.9" r="6"/><circle cx="560.0" cy="1544.8" r="6"/><circle cx="558.3" cy="1463.5" r="6"/><circle cx="536.5" cy="1532.4" r="6"/><circle cx="548.7" cy="1539.1" r="6"/><circle cx="545.8" cy="1550.5" r="6"/><circle cx="554.9" cy="1611.6" r="6"/><circle cx="544.0" cy="1513.2" r="6"/><circle cx="557.5" cy="1465.5" r="6"/><circle cx="539.0" cy="1484.1" r="6"/><circle cx="538.3" cy="1581.7" r="6"/><circle cx="557.3" cy="1484.3" r="6"/><circle cx="539.4" cy="1435.4" r="6"/><circle cx="542.4" cy="1435.9" r="6"/><circle cx="547.1" cy="1540.3" r="6"/><circle cx="542.4" cy="1431.0" r="6"/><circle cx="554.2" cy="1428.2" r="6"/><circle cx="541.2" cy="1478.6" r="6"/><circle cx="545.7" cy="1438.9" r="6"/><circle cx="546.9" cy="1484.6" r="6"/><circle cx="555.6" cy="1535.9" r="6"/><circle cx="559.3" cy="1556.7" r="6"/><circle cx="555.8" cy="1539.8" r="6"/><circle cx="547.5" cy="1591.2" r="6"/><circle cx="553.0" cy="1620.4" r="6"/><circle cx="554.9" cy="1566.6" r="6"/><circle cx="543.0" cy="1590.2" r="6"/><circle cx="545.9" cy="1445.6" r="6"/><circle cx="537.7" cy="1453.9" r="6"/><circle cx="542.8" cy="1561.3" r="6"/><circle cx="543.4" cy="1431.5" r="6"/><circle cx="555.9" cy="1536.1" r="6"/><circle cx="536.7" cy="1428.7" r="6"/><circle cx="539.4" cy="1493.7" r="6"/><circle cx="558.4" cy="1619.2" r="6"/><circle cx="551.9" cy="1467.0" r="6"/><circle cx="547.2" cy="1494.8" r="6"/><circle cx="544.6" cy="1420.6" r="6"/><circle cx="551.2" cy="1593.3" r="6"/><circle cx="554.9" cy="1438.2" r="6"/><circle cx="549.8" cy="1454.3" r="6"/><circle cx="554.4" cy="1512.6" r="6"/><circle cx="560.4" cy="1586.5" r="6"/><circle cx="539.1" cy="1485.2" r="6"/><circle cx="559.8" cy="1515.7" r="6"/><circle cx="547.3" cy="1511.6" r="6"/><circle cx="556.0" cy="1616.5" r="6"/><circle cx="549.8" cy="1623.6" r="6"/><circle cx="551.5" cy="1440.0" r="6"/><circle cx="557.2" cy="1506.9" r="6"/><circle cx="537.4" cy="1625.3" r="6"/><circle cx="536.9" cy="1540.3" r="6"/><circle cx="548.5" cy="1604.9" r="6"/><circle cx="546.2" cy="1463.7" r="6"/><circle cx="543.2" cy="1460.6" r="6"/><circle cx="550.6" cy="1493.7" r="6"/><circle cx="555.5" cy="1469.2" r="6"/><circle cx="545.1" cy="1470.6" r="6"/><circle cx="561.5" cy="1596.1" r="6"/><circle cx="558.1" cy="1549.0" r="6"/><circle cx="546.4" cy="1448.3" r="6"/><circle cx="557.6" cy="1521.9" r="6"/><circle cx="537.0" cy="1453.9" r="6"/><circle cx="538.6" cy="1570.2" r="6"/><circle cx="559.4" cy="1460.3" r="6"/><circle cx="556.7" cy="1486.7" r="6"/><circle cx="553.8" cy="1601.0" r="6"/><circle cx="552.2" cy="1587.7" r="6"/><circle cx="545.8" cy="1420.1" r="6"/><circle cx="549.3" cy="1542.4" r="6"/><circle cx="540.8" cy="1500.5" r="6"/><circle cx="544.2" cy="1423.7" r="6"/><circle cx="544.1" cy="1499.2" r="6"/><circle cx="548.4" cy="1567.1" r="6"/><circle cx="546.4" cy="1626.3" r="6"/><circle cx="557.2" cy="1613.9" r="6"/><circle cx="554.0" cy="1560.1" r="6"/><circle cx="550.0" cy="1587.3" r="6"/><circle cx="545.4" cy="1543.8" r="6"/><circle cx="553.7" cy="1528.7" r="6"/><circle cx="543.4" cy="1434.5" r="6"/><circle cx="538.3" cy="1493.4" r="6"/><circle cx="551.1" cy="1579.0" r="6"/><circle cx="554.6" cy="1483.0" r="6"/><circle cx="560.2" cy="1476.2" r="6"/><circle cx="554.6" cy="1433.3" r="6"/><circle cx="555.6" cy="1560.0" r="6"/><circle cx="560.9" cy="1608.2" r="6"/><circle cx="553.9" cy="1595.7" r="6"/><circle cx="555.2" cy="1547.5" r="6"/><circle cx="541.4" cy="1527.5" r="6"/><circle cx="559.3" cy="1468.7" r="6"/><circle cx="561.3" cy="1533.3" r="6"/><circle cx="546.2" cy="1418.6" r="6"/><circle cx="546.1" cy="1455.8" r="6"/><circle cx="553.0" cy="1608.7" r="6"/><circle cx="559.7" cy="1548.1" r="6"/><circle cx="546.1" cy="1441.1" r="6"/><circle cx="553.9" cy="1535.3" r="6"/><circle cx="554.6" cy="1497.3" r="6"/><circle cx="559.1" cy="1463.1" r="6"/><circle cx="543.9" cy="1474.7" r="6"/><circle cx="552.2" cy="1608.2" r="6"/><circle cx="582.7" cy="1559.5" r="6"/><circle cx="592.3" cy="1481.1" r="6"/><circle cx="581.0" cy="1546.7" r="6"/><circle cx="593.3" cy="1606.7" r="6"/><circle cx="591.6" cy="1518.0" r="6"/><circle cx="586.8" cy="1539.5" r="6"/><circle cx="594.5" cy="1496.0" r="6"/><circle cx="584.5" cy="1554.2" r="6"/><circle cx="595.5" cy="1473.9" r="6"/><circle cx="580.5" cy="1460.2" r="6"/><circle cx="589.0" cy="1553.9" r="6"/><circle cx="582.9" cy="1474.5" r="6"/><circle cx="589.5" cy="1562.1" r="6"/><circle cx="591.0" cy="1578.0" r="6"/><circle cx="581.0" cy="1531.1" r="6"/><circle cx="593.4" cy="1621.8" r="6"/><circle cx="585.1" cy="1601.3" r="6"/><circle cx="590.3" cy="1615.9" r="6"/><circle cx="583.7" cy="1571.8" r="6"/><circle cx="593.5" cy="1529.5" r="6"/><circle cx="581.6" cy="1475.2" r="6"/><circle cx="582.5" cy="1455.8" r="6"/><circle cx="582.4" cy="1556.2" r="6"/><circle cx="581.7" cy="1583.5" r="6"/><circle cx="591.8" cy="1594.7" r="6"/><circle cx="592.9" cy="1574.9" r="6"/><circle cx="594.8" cy="1621.7" r="6"/><circle cx="590.0" cy="1623.3" r="6"/><circle cx="581.7" cy="1457.8" r="6"/><circle cx="581.0" cy="1477.6" r="6"/><circle cx="586.0" cy="1526.1" r="6"/><circle cx="590.9" cy="1580.6" r="6"/><circle cx="581.3" cy="1515.4" r="6"/><circle cx="588.7" cy="1510.0" r="6"/><circle cx="581.9" cy="1552.6" r="6"/><circle cx="586.0" cy="1569.3" r="6"/><circle cx="587.9" cy="1622.8" r="6"/><circle cx="595.1" cy="1451.9" r="6"/><circle cx="592.2" cy="1576.5" r="6"/><circle cx="584.7" cy="1460.4" r="6"/><circle cx="587.7" cy="1506.0" r="6"/><circle cx="591.8" cy="1614.3" r="6"/><circle cx="586.1" cy="1493.8" r="6"/><circle cx="588.0" cy="1571.8" r="6"/><circle cx="592.6" cy="1548.5" r="6"/><circle cx="584.7" cy="1502.7" r="6"/><circle cx="593.6" cy="1537.7" r="6"/><circle cx="580.8" cy="1518.8" r="6"/><circle cx="583.8" cy="1565.9" r="6"/><circle cx="581.2" cy="1490.0" r="6"/><circle cx="581.5" cy="1529.7" r="6"/><circle cx="595.8" cy="1541.9" r="6"/><circle cx="586.2" cy="1617.3" r="6"/><circle cx="581.5" cy="1506.3" r="6"/><circle cx="593.0" cy="1439.0" r="6"/><circle cx="592.3" cy="1507.3" r="6"/><circle cx="580.3" cy="1486.2" r="6"/><circle cx="587.3" cy="1511.5" r="6"/><circle cx="588.3" cy="1448.2" r="6"/><circle cx="583.5" cy="1625.1" r="6"/><circle cx="587.1" cy="1528.6" r="6"/><circle cx="581.4" cy="1491.6" r="6"/><circle cx="595.3" cy="1569.9" r="6"/><circle cx="588.1" cy="1448.2" r="6"/><circle cx="586.3" cy="1587.5" r="6"/><circle cx="587.0" cy="1552.0" r="6"/><circle cx="594.4" cy="1561.9" r="6"/><circle cx="590.2" cy="1444.9" r="6"/><circle cx="580.4" cy="1585.8" r="6"/><circle cx="586.6" cy="1605.8" r="6"/><circle cx="593.2" cy="1613.7" r="6"/><circle cx="697.6" cy="1649.8" r="6"/><circle cx="705.1" cy="1628.4" r="6"/><circle cx="693.0" cy="1606.2" r="6"/><circle cx="698.4" cy="1644.4" r="6"/><circle cx="709.9" cy="1493.3" r="6"/><circle cx="698.4" cy="1504.2" r="6"/><circle cx="699.4" cy="1507.3" r="6"/><circle cx="703.3" cy="1474.7" r="6"/><circle cx="693.4" cy="1541.5" r="6"/><circle cx="691.5" cy="1526.2" r="6"/><circle cx="707.9" cy="1627.1" r="6"/><circle cx="693.9" cy="1453.7" r="6"/><circle cx="706.6" cy="1642.2" r="6"/><circle cx="702.0" cy="1477.3" r="6"/><circle cx="694.7" cy="1634.0" r="6"/><circle cx="708.8" cy="1456.2" r="6"/><circle cx="693.7" cy="1535.8" r="6"/><circle cx="695.3" cy="1600.8" r="6"/><circle cx="697.5" cy="1605.0" r="6"/><circle cx="693.0" cy="1553.7" r="6"/><circle cx="709.5" cy="1590.4" r="6"/><circle cx="691.8" cy="1472.2" r="6"/><circle cx="702.9" cy="1525.0" r="6"/><circle cx="697.4" cy="1545.5" r="6"/><circle cx="701.6" cy="1643.2" r="6"/><circle cx="694.8" cy="1563.7" r="6"/><circle cx="695.3" cy="1559.1" r="6"/><circle cx="704.6" cy="1476.7" r="6"/><circle cx="699.6" cy="1591.2" r="6"/><circle cx="690.2" cy="1604.2" r="6"/><circle cx="698.4" cy="1550.8" r="6"/><circle cx="702.2" cy="1608.6" r="6"/><circle cx="691.1" cy="1550.1" r="6"/><circle cx="690.8" cy="1527.1" r="6"/><circle cx="696.9" cy="1454.3" r="6"/><circle cx="696.0" cy="1540.0" r="6"/><circle cx="703.1" cy="1635.0" r="6"/><circle cx="697.4" cy="1556.0" r="6"/><circle cx="704.3" cy="1637.5" r="6"/><circle cx="709.0" cy="1647.6" r="6"/><circle cx="696.0" cy="1483.3" r="6"/><circle cx="708.6" cy="1465.5" r="6"/><circle cx="699.0" cy="1597.2" r="6"/><circle cx="700.6" cy="1527.7" r="6"/><circle cx="708.5" cy="1509.8" r="6"/><circle cx="701.0" cy="1615.9" r="6"/><circle cx="692.8" cy="1520.2" r="6"/><circle cx="699.9" cy="1563.2" r="6"/><circle cx="694.1" cy="1540.8" r="6"/><circle cx="691.2" cy="1467.6" r="6"/><circle cx="696.8" cy="1478.8" r="6"/><circle cx="709.4" cy="1502.7" r="6"/><circle cx="695.5" cy="1606.7" r="6"/><circle cx="704.8" cy="1502.4" r="6"/><circle cx="706.6" cy="1575.1" r="6"/><circle cx="697.8" cy="1575.8" r="6"/><circle cx="694.9" cy="1502.7" r="6"/><circle cx="707.5" cy="1537.7" r="6"/><circle cx="707.9" cy="1485.4" r="6"/><circle cx="692.7" cy="1460.4" r="6"/><circle cx="704.8" cy="1562.2" r="6"/><circle cx="690.2" cy="1458.7" r="6"/><circle cx="706.5" cy="1548.9" r="6"/><circle cx="707.4" cy="1458.0" r="6"/><circle cx="701.8" cy="1473.5" r="6"/><circle cx="755.9" cy="1619.8" r="6"/><circle cx="753.5" cy="1599.5" r="6"/><circle cx="760.9" cy="1593.8" r="6"/><circle cx="741.4" cy="1623.6" r="6"/><circle cx="742.0" cy="1591.5" r="6"/><circle cx="750.1" cy="1621.7" r="6"/><circle cx="759.6" cy="1625.5" r="6"/><circle cx="741.5" cy="1621.4" r="6"/><circle cx="758.6" cy="1594.3" r="6"/><circle cx="756.6" cy="1601.4" r="6"/><circle cx="746.6" cy="1588.1" r="6"/><circle cx="756.7" cy="1614.8" r="6"/><circle cx="759.8" cy="1612.2" r="6"/><circle cx="743.4" cy="1599.3" r="6"/><circle cx="745.8" cy="1637.2" r="6"/><circle cx="744.5" cy="1592.6" r="6"/><circle cx="747.8" cy="1592.1" r="6"/><circle cx="749.4" cy="1620.3" r="6"/><circle cx="754.3" cy="1597.1" r="6"/><circle cx="743.1" cy="1613.5" r="6"/><circle cx="755.1" cy="1611.3" r="6"/><circle cx="752.6" cy="1635.4" r="6"/><circle cx="743.2" cy="1601.9" r="6"/><circle cx="750.9" cy="1615.9" r="6"/><circle cx="759.8" cy="1616.9" r="6"/><circle cx="754.6" cy="1609.8" r="6"/><circle cx="168.0" cy="1609.1" r="6"/><circle cx="156.8" cy="1582.9" r="6"/><circle cx="156.0" cy="1591.9" r="6"/><circle cx="170.5" cy="1588.5" r="6"/><circle cx="164.5" cy="1602.1" r="6"/><circle cx="172.0" cy="1583.2" r="6"/><circle cx="167.7" cy="1591.1" r="6"/><circle cx="152.4" cy="1601.8" r="6"/><circle cx="169.4" cy="1600.0" r="6"/><circle cx="151.1" cy="1614.0" r="6"/><circle cx="158.8" cy="1601.9" r="6"/><circle cx="166.7" cy="1588.4" r="6"/><circle cx="159.4" cy="1590.9" r="6"/><circle cx="152.2" cy="1581.3" r="6"/><circle cx="166.5" cy="1593.8" r="6"/><circle cx="170.0" cy="1581.3" r="6"/><circle cx="156.9" cy="1585.5" r="6"/><circle cx="171.7" cy="1607.5" r="6"/><circle cx="170.6" cy="1597.2" r="6"/><circle cx="152.4" cy="1594.0" r="6"/><circle cx="155.2" cy="1580.0" r="6"/><circle cx="163.0" cy="1589.4" r="6"/><circle cx="159.6" cy="1632.7" r="6"/><circle cx="172.0" cy="1639.2" r="6"/><circle cx="165.0" cy="1626.5" r="6"/><circle cx="169.5" cy="1626.7" r="6"/><circle cx="166.1" cy="1626.3" r="6"/><circle cx="172.8" cy="1633.1" r="6"/><circle cx="164.6" cy="1629.1" r="6"/><circle cx="166.3" cy="1639.6" r="6"/><circle cx="185.4" cy="1558.9" r="6"/><circle cx="186.7" cy="1568.9" r="6"/><circle cx="184.7" cy="1564.9" r="6"/><circle cx="192.8" cy="1560.6" r="6"/><circle cx="191.2" cy="1563.4" r="6"/><circle cx="181.1" cy="1556.8" r="6"/><circle cx="193.1" cy="1562.5" r="6"/><circle cx="185.6" cy="1568.8" r="6"/><circle cx="201.2" cy="1595.5" r="6"/><circle cx="194.5" cy="1599.7" r="6"/><circle cx="193.9" cy="1595.0" r="6"/><circle cx="205.4" cy="1597.3" r="6"/><circle cx="191.1" cy="1590.4" r="6"/><circle cx="204.0" cy="1599.4" r="6"/><circle cx="190.4" cy="1604.0" r="6"/><circle cx="191.1" cy="1589.9" r="6"/><circle cx="190.1" cy="1594.6" r="6"/><circle cx="202.3" cy="1601.6" r="6"/><circle cx="191.8" cy="1598.9" r="6"/><circle cx="190.4" cy="1596.9" r="6"/><circle cx="193.8" cy="1593.1" r="6"/><circle cx="189.2" cy="1599.3" r="6"/><circle cx="190.8" cy="1600.0" r="6"/><circle cx="195.7" cy="1597.1" r="6"/><circle cx="207.4" cy="1618.7" r="6"/><circle cx="212.3" cy="1631.6" r="6"/><circle cx="199.9" cy="1614.0" r="6"/><circle cx="212.4" cy="1608.0" r="6"/><circle cx="202.8" cy="1616.4" r="6"/><circle cx="214.5" cy="1607.8" r="6"/><circle cx="207.8" cy="1626.7" r="6"/><circle cx="209.3" cy="1604.0" r="6"/><circle cx="213.8" cy="1613.4" r="6"/><circle cx="211.9" cy="1623.8" r="6"/><circle cx="202.8" cy="1629.1" r="6"/><circle cx="208.2" cy="1614.2" r="6"/><circle cx="209.4" cy="1619.2" r="6"/><circle cx="208.9" cy="1622.4" r="6"/><circle cx="210.7" cy="1608.8" r="6"/><circle cx="204.4" cy="1604.0" r="6"/><circle cx="256.6" cy="1571.1" r="6"/><circle cx="257.8" cy="1558.7" r="6"/><circle cx="249.9" cy="1566.1" r="6"/><circle cx="239.1" cy="1561.4" r="6"/><circle cx="261.3" cy="1572.5" r="6"/><circle cx="242.2" cy="1572.1" r="6"/><circle cx="252.9" cy="1564.5" r="6"/><circle cx="252.8" cy="1561.9" r="6"/><circle cx="243.1" cy="1558.2" r="6"/><circle cx="253.1" cy="1567.9" r="6"/><circle cx="255.3" cy="1566.6" r="6"/><circle cx="247.3" cy="1563.2" r="6"/><circle cx="255.1" cy="1564.3" r="6"/><circle cx="251.5" cy="1570.9" r="6"/><circle cx="320.9" cy="1566.2" r="6"/><circle cx="309.8" cy="1561.1" r="6"/><circle cx="332.4" cy="1559.8" r="6"/><circle cx="309.6" cy="1558.2" r="6"/><circle cx="330.2" cy="1559.3" r="6"/><circle cx="321.3" cy="1563.3" r="6"/><circle cx="331.3" cy="1563.7" r="6"/><circle cx="323.1" cy="1558.3" r="6"/><circle cx="340.3" cy="1643.0" r="6"/><circle cx="335.5" cy="1645.0" r="6"/><circle cx="335.2" cy="1641.5" r="6"/><circle cx="341.8" cy="1638.5" r="6"/><circle cx="318.6" cy="1646.5" r="6"/><circle cx="345.7" cy="1626.0" r="6"/><circle cx="319.8" cy="1630.2" r="6"/><circle cx="320.8" cy="1631.1" r="6"/><circle cx="320.5" cy="1626.6" r="6"/><circle cx="318.1" cy="1632.9" r="6"/><circle cx="326.4" cy="1641.9" r="6"/><circle cx="328.9" cy="1625.0" r="6"/><circle cx="344.7" cy="1646.8" r="6"/><circle cx="337.3" cy="1626.5" r="6"/><circle cx="329.3" cy="1633.5" r="6"/><circle cx="329.4" cy="1620.8" r="6"/><circle cx="330.8" cy="1643.0" r="6"/><circle cx="337.4" cy="1645.8" r="6"/><circle cx="401.1" cy="1608.1" r="6"/><circle cx="405.8" cy="1617.8" r="6"/><circle cx="403.8" cy="1586.2" r="6"/><circle cx="400.5" cy="1601.5" r="6"/><circle cx="406.1" cy="1605.0" r="6"/><circle cx="395.1" cy="1572.0" r="6"/><circle cx="392.2" cy="1575.8" r="6"/><circle cx="401.0" cy="1608.5" r="6"/><circle cx="388.8" cy="1593.6" r="6"/><circle cx="405.0" cy="1583.0" r="6"/><circle cx="386.4" cy="1598.2" r="6"/><circle cx="393.1" cy="1569.1" r="6"/><circle cx="391.2" cy="1560.4" r="6"/><circle cx="387.7" cy="1586.8" r="6"/><circle cx="386.6" cy="1560.4" r="6"/><circle cx="397.7" cy="1620.3" r="6"/><circle cx="404.9" cy="1580.5" r="6"/><circle cx="407.1" cy="1565.0" r="6"/><circle cx="155.5" cy="1655.2" r="6"/><circle cx="149.1" cy="1676.1" r="6"/><circle cx="198.0" cy="1671.7" r="6"/><circle cx="201.2" cy="1670.8" r="6"/><circle cx="209.3" cy="1676.3" r="6"/><circle cx="182.6" cy="1661.0" r="6"/><circle cx="174.9" cy="1670.4" r="6"/><circle cx="202.6" cy="1663.0" r="6"/><circle cx="165.6" cy="1683.6" r="6"/><circle cx="150.0" cy="1673.8" r="6"/><circle cx="160.4" cy="1678.3" r="6"/><circle cx="186.6" cy="1658.3" r="6"/><circle cx="196.1" cy="1669.3" r="6"/><circle cx="167.4" cy="1685.0" r="6"/><circle cx="199.5" cy="1665.8" r="6"/><circle cx="192.4" cy="1659.3" r="6"/><circle cx="181.3" cy="1657.9" r="6"/><circle cx="189.9" cy="1687.1" r="6"/><circle cx="189.5" cy="1656.4" r="6"/><circle cx="180.9" cy="1671.4" r="6"/><circle cx="176.0" cy="1660.3" r="6"/><circle cx="164.5" cy="1670.7" r="6"/><circle cx="150.0" cy="1678.6" r="6"/><circle cx="162.0" cy="1665.2" r="6"/><circle cx="151.4" cy="1665.6" r="6"/><circle cx="210.2" cy="1665.2" r="6"/><circle cx="151.7" cy="1667.1" r="6"/><circle cx="211.2" cy="1658.1" r="6"/><circle cx="169.0" cy="1662.3" r="6"/><circle cx="192.7" cy="1671.2" r="6"/><circle cx="151.9" cy="1685.2" r="6"/><circle cx="168.0" cy="1679.0" r="6"/><circle cx="176.7" cy="1685.5" r="6"/><circle cx="149.1" cy="1663.0" r="6"/><circle cx="165.0" cy="1664.3" r="6"/><circle cx="202.5" cy="1672.6" r="6"/><circle cx="169.3" cy="1672.7" r="6"/><circle cx="204.2" cy="1674.9" r="6"/><circle cx="176.6" cy="1678.0" r="6"/><circle cx="188.1" cy="1669.2" r="6"/><circle cx="447.9" cy="1489.4" r="6"/><circle cx="448.5" cy="1508.9" r="6"/><circle cx="442.0" cy="1495.5" r="6"/><circle cx="456.6" cy="1501.4" r="6"/><circle cx="435.6" cy="1497.6" r="6"/><circle cx="463.0" cy="1487.1" r="6"/><circle cx="432.3" cy="1505.6" r="6"/><circle cx="471.4" cy="1487.8" r="6"/><circle cx="431.0" cy="1502.3" r="6"/><circle cx="440.9" cy="1503.1" r="6"/><circle cx="428.7" cy="1497.9" r="6"/><circle cx="434.9" cy="1494.6" r="6"/><circle cx="461.0" cy="1499.3" r="6"/><circle cx="468.8" cy="1507.9" r="6"/><circle cx="457.4" cy="1508.0" r="6"/><circle cx="435.7" cy="1498.3" r="6"/><circle cx="442.7" cy="1502.2" r="6"/><circle cx="432.5" cy="1509.0" r="6"/><circle cx="445.2" cy="1506.4" r="6"/><circle cx="473.2" cy="1510.4" r="6"/><circle cx="446.1" cy="1508.3" r="6"/><circle cx="475.9" cy="1489.4" r="6"/><circle cx="463.6" cy="1504.9" r="6"/><circle cx="449.4" cy="1493.2" r="6"/><circle cx="435.5" cy="1496.7" r="6"/><circle cx="472.7" cy="1496.5" r="6"/><circle cx="439.5" cy="1502.1" r="6"/><circle cx="448.4" cy="1502.0" r="6"/><circle cx="449.3" cy="1493.4" r="6"/><circle cx="428.7" cy="1507.3" r="6"/><circle cx="459.3" cy="1492.3" r="6"/><circle cx="451.5" cy="1501.1" r="6"/><circle cx="451.7" cy="1509.4" r="6"/><circle cx="465.2" cy="1494.0" r="6"/><circle cx="443.6" cy="1501.9" r="6"/><circle cx="435.0" cy="1510.3" r="6"/><circle cx="429.2" cy="1499.0" r="6"/><circle cx="440.4" cy="1499.7" r="6"/><circle cx="429.2" cy="1491.8" r="6"/><circle cx="475.5" cy="1506.5" r="6"/><circle cx="485.5" cy="1485.9" r="6"/><circle cx="480.8" cy="1477.2" r="6"/><circle cx="484.8" cy="1499.6" r="6"/><circle cx="487.8" cy="1480.4" r="6"/><circle cx="481.6" cy="1476.9" r="6"/><circle cx="504.9" cy="1493.2" r="6"/><circle cx="503.0" cy="1495.7" r="6"/><circle cx="499.6" cy="1480.6" r="6"/><circle cx="484.2" cy="1481.0" r="6"/><circle cx="481.6" cy="1478.6" r="6"/><circle cx="498.0" cy="1486.8" r="6"/><circle cx="480.3" cy="1481.9" r="6"/><circle cx="501.2" cy="1496.1" r="6"/><circle cx="498.2" cy="1493.0" r="6"/><circle cx="532.4" cy="1512.6" r="6"/><circle cx="516.5" cy="1513.0" r="6"/><circle cx="513.5" cy="1498.0" r="6"/><circle cx="512.8" cy="1509.8" r="6"/><circle cx="508.6" cy="1499.3" r="6"/><circle cx="512.4" cy="1507.3" r="6"/><circle cx="533.7" cy="1510.6" r="6"/><circle cx="530.1" cy="1517.8" r="6"/><circle cx="522.8" cy="1506.0" r="6"/><circle cx="516.8" cy="1505.9" r="6"/><circle cx="524.0" cy="1520.9" r="6"/><circle cx="528.7" cy="1505.3" r="6"/><circle cx="509.5" cy="1497.2" r="6"/><circle cx="522.5" cy="1503.4" r="6"/><circle cx="505.2" cy="1505.5" r="6"/><circle cx="511.9" cy="1502.7" r="6"/><circle cx="641.5" cy="1521.3" r="6"/><circle cx="620.5" cy="1527.9" r="6"/><circle cx="616.4" cy="1536.5" r="6"/><circle cx="611.5" cy="1521.6" r="6"/><circle cx="643.8" cy="1528.0" r="6"/><circle cx="631.8" cy="1534.2" r="6"/><circle cx="639.6" cy="1526.1" r="6"/><circle cx="609.3" cy="1503.4" r="6"/><circle cx="630.6" cy="1519.5" r="6"/><circle cx="610.2" cy="1528.4" r="6"/><circle cx="624.1" cy="1516.4" r="6"/><circle cx="633.7" cy="1532.7" r="6"/><circle cx="621.6" cy="1520.2" r="6"/><circle cx="638.3" cy="1524.5" r="6"/><circle cx="622.2" cy="1507.6" r="6"/><circle cx="630.9" cy="1522.0" r="6"/><circle cx="640.5" cy="1501.0" r="6"/><circle cx="629.5" cy="1520.2" r="6"/><circle cx="615.7" cy="1499.6" r="6"/><circle cx="656.1" cy="1495.9" r="6"/><circle cx="632.4" cy="1508.3" r="6"/><circle cx="606.7" cy="1507.1" r="6"/><circle cx="613.9" cy="1513.0" r="6"/><circle cx="655.0" cy="1498.6" r="6"/><circle cx="624.3" cy="1526.3" r="6"/><circle cx="639.4" cy="1495.9" r="6"/><circle cx="617.6" cy="1507.6" r="6"/><circle cx="654.2" cy="1514.9" r="6"/><circle cx="622.1" cy="1467.0" r="6"/><circle cx="623.9" cy="1458.7" r="6"/><circle cx="625.3" cy="1473.0" r="6"/><circle cx="623.8" cy="1468.4" r="6"/><circle cx="626.2" cy="1478.9" r="6"/><circle cx="624.9" cy="1456.1" r="6"/><circle cx="710.1" cy="1586.4" r="6"/><circle cx="706.6" cy="1587.6" r="6"/><circle cx="707.4" cy="1583.9" r="6"/><circle cx="712.3" cy="1586.9" r="6"/><circle cx="718.5" cy="1588.9" r="6"/><circle cx="714.2" cy="1588.7" r="6"/><circle cx="704.6" cy="1583.8" r="6"/><circle cx="712.4" cy="1553.4" r="6"/><circle cx="715.1" cy="1562.5" r="6"/><circle cx="709.8" cy="1578.8" r="6"/><circle cx="714.4" cy="1592.1" r="6"/><circle cx="709.4" cy="1601.7" r="6"/><circle cx="708.9" cy="1581.2" r="6"/><circle cx="719.8" cy="1567.8" r="6"/><circle cx="714.3" cy="1602.6" r="6"/><circle cx="701.7" cy="1592.7" r="6"/><circle cx="713.0" cy="1579.7" r="6"/><circle cx="715.8" cy="1597.3" r="6"/><circle cx="702.9" cy="1576.8" r="6"/><circle cx="712.3" cy="1588.4" r="6"/><circle cx="778.3" cy="1589.2" r="6"/><circle cx="773.1" cy="1548.6" r="6"/><circle cx="757.1" cy="1595.2" r="6"/><circle cx="777.8" cy="1586.6" r="6"/><circle cx="753.3" cy="1587.3" r="6"/><circle cx="761.3" cy="1581.7" r="6"/><circle cx="765.5" cy="1592.6" r="6"/><circle cx="768.6" cy="1598.4" r="6"/><circle cx="759.7" cy="1572.1" r="6"/><circle cx="766.3" cy="1575.9" r="6"/><circle cx="742.0" cy="1597.8" r="6"/><circle cx="752.7" cy="1572.5" r="6"/><circle cx="741.7" cy="1555.5" r="6"/><circle cx="777.1" cy="1560.3" r="6"/><circle cx="751.9" cy="1589.7" r="6"/><circle cx="749.7" cy="1581.7" r="6"/><circle cx="762.7" cy="1594.3" r="6"/><circle cx="759.1" cy="1563.1" r="6"/><circle cx="750.4" cy="1565.0" r="6"/><circle cx="740.0" cy="1551.6" r="6"/><circle cx="746.0" cy="1562.3" r="6"/><circle cx="770.7" cy="1596.8" r="6"/><circle cx="754.2" cy="1558.7" r="6"/><circle cx="751.7" cy="1579.6" r="6"/><circle cx="759.1" cy="1551.5" r="6"/><circle cx="761.0" cy="1559.8" r="6"/><circle cx="745.8" cy="1588.2" r="6"/><circle cx="744.2" cy="1569.2" r="6"/><circle cx="770.6" cy="1574.9" r="6"/><circle cx="774.9" cy="1562.4" r="6"/><circle cx="787.3" cy="1602.0" r="6"/><circle cx="784.8" cy="1619.1" r="6"/><circle cx="740.2" cy="1611.7" r="6"/><circle cx="789.4" cy="1632.2" r="6"/><circle cx="776.9" cy="1636.5" r="6"/><circle cx="740.3" cy="1613.8" r="6"/><circle cx="763.3" cy="1640.9" r="6"/><circle cx="785.4" cy="1606.7" r="6"/><circle cx="789.4" cy="1624.9" r="6"/><circle cx="755.2" cy="1603.7" r="6"/><circle cx="761.3" cy="1623.4" r="6"/><circle cx="762.7" cy="1614.0" r="6"/><circle cx="787.4" cy="1621.4" r="6"/><circle cx="755.4" cy="1635.0" r="6"/><circle cx="752.2" cy="1619.0" r="6"/><circle cx="745.2" cy="1610.7" r="6"/><circle cx="789.8" cy="1628.0" r="6"/><circle cx="766.2" cy="1630.3" r="6"/><circle cx="773.6" cy="1623.5" r="6"/><circle cx="758.3" cy="1606.6" r="6"/><circle cx="741.5" cy="1605.4" r="6"/><circle cx="760.3" cy="1600.5" r="6"/><circle cx="773.7" cy="1615.2" r="6"/><circle cx="751.7" cy="1614.1" r="6"/><circle cx="764.6" cy="1609.4" r="6"/><circle cx="782.6" cy="1621.7" r="6"/><circle cx="565.5" cy="1566.0" r="6"/><circle cx="631.2" cy="1600.5" r="6"/><circle cx="583.3" cy="1609.9" r="6"/><circle cx="563.7" cy="1622.2" r="6"/><circle cx="634.9" cy="1606.5" r="6"/><circle cx="564.0" cy="1589.8" r="6"/><circle cx="626.9" cy="1601.5" r="6"/><circle cx="576.7" cy="1576.4" r="6"/><circle cx="565.1" cy="1596.5" r="6"/><circle cx="574.5" cy="1591.2" r="6"/><circle cx="631.6" cy="1623.1" r="6"/><circle cx="599.4" cy="1614.9" r="6"/><circle cx="570.7" cy="1626.3" r="6"/><circle cx="629.2" cy="1593.8" r="6"/><circle cx="630.9" cy="1580.8" r="6"/><circle cx="638.4" cy="1582.6" r="6"/><circle cx="633.9" cy="1618.6" r="6"/><circle cx="634.8" cy="1610.9" r="6"/><circle cx="565.9" cy="1579.6" r="6"/><circle cx="612.5" cy="1623.6" r="6"/><circle cx="614.5" cy="1562.7" r="6"/><circle cx="587.8" cy="1584.2" r="6"/><circle cx="573.7" cy="1575.8" r="6"/><circle cx="601.3" cy="1586.1" r="6"/><circle cx="581.4" cy="1588.8" r="6"/><circle cx="635.8" cy="1601.8" r="6"/><circle cx="620.1" cy="1625.3" r="6"/><circle cx="562.5" cy="1621.6" r="6"/><circle cx="567.6" cy="1573.7" r="6"/><circle cx="619.2" cy="1612.7" r="6"/></g><g fill="#00adbd" fill-opacity="0.5" stroke="#1a9eab" stroke-opacity="0.8" stroke-width="1.4"><circle cx="188.0" cy="1602.8" r="5.8"/><circle cx="195.6" cy="1598.5" r="5.8"/><circle cx="158.6" cy="1579.8" r="5.8"/><circle cx="152.9" cy="1563.3" r="5.8"/><circle cx="211.6" cy="1645.5" r="5.8"/><circle cx="169.4" cy="1597.1" r="5.8"/><circle cx="164.5" cy="1630.3" r="5.8"/><circle cx="179.5" cy="1575.3" r="5.8"/><circle cx="206.9" cy="1643.6" r="5.8"/><circle cx="148.3" cy="1601.3" r="5.8"/><circle cx="160.5" cy="1617.5" r="5.8"/><circle cx="170.1" cy="1586.8" r="5.8"/><circle cx="166.2" cy="1614.7" r="5.8"/><circle cx="180.2" cy="1603.9" r="5.8"/><circle cx="192.6" cy="1602.6" r="5.8"/><circle cx="476.3" cy="1577.3" r="5.8"/><circle cx="465.4" cy="1619.1" r="5.8"/><circle cx="453.5" cy="1590.1" r="5.8"/><circle cx="465.3" cy="1600.5" r="5.8"/><circle cx="423.5" cy="1575.4" r="5.8"/><circle cx="421.0" cy="1541.8" r="5.8"/><circle cx="458.1" cy="1567.9" r="5.8"/><circle cx="427.8" cy="1542.2" r="5.8"/><circle cx="411.6" cy="1597.1" r="5.8"/><circle cx="435.1" cy="1577.1" r="5.8"/><circle cx="457.3" cy="1617.1" r="5.8"/><circle cx="459.1" cy="1558.6" r="5.8"/><circle cx="479.2" cy="1555.6" r="5.8"/><circle cx="450.7" cy="1594.7" r="5.8"/><circle cx="497.2" cy="1613.9" r="5.8"/><circle cx="516.6" cy="1596.0" r="5.8"/><circle cx="488.3" cy="1608.2" r="5.8"/><circle cx="497.2" cy="1586.8" r="5.8"/><circle cx="524.2" cy="1557.2" r="5.8"/><circle cx="495.9" cy="1558.0" r="5.8"/><circle cx="538.7" cy="1590.8" r="5.8"/><circle cx="508.3" cy="1581.2" r="5.8"/><circle cx="519.3" cy="1551.2" r="5.8"/><circle cx="484.6" cy="1535.9" r="5.8"/><circle cx="514.9" cy="1584.9" r="5.8"/><circle cx="538.7" cy="1587.1" r="5.8"/><circle cx="531.2" cy="1623.7" r="5.8"/><circle cx="509.8" cy="1567.2" r="5.8"/><circle cx="508.3" cy="1562.2" r="5.8"/><circle cx="525.6" cy="1582.5" r="5.8"/><circle cx="487.4" cy="1620.5" r="5.8"/><circle cx="511.6" cy="1599.9" r="5.8"/><circle cx="512.8" cy="1583.9" r="5.8"/><circle cx="514.6" cy="1536.5" r="5.8"/><circle cx="564.4" cy="1433.3" r="5.8"/><circle cx="568.3" cy="1418.2" r="5.8"/><circle cx="576.7" cy="1433.7" r="5.8"/><circle cx="575.7" cy="1424.7" r="5.8"/><circle cx="564.4" cy="1510.4" r="5.8"/><circle cx="565.9" cy="1506.7" r="5.8"/><circle cx="574.5" cy="1490.9" r="5.8"/><circle cx="562.0" cy="1503.6" r="5.8"/><circle cx="576.2" cy="1503.5" r="5.8"/><circle cx="579.7" cy="1589.1" r="5.8"/><circle cx="575.2" cy="1597.4" r="5.8"/><circle cx="572.4" cy="1592.1" r="5.8"/><circle cx="566.1" cy="1601.9" r="5.8"/><circle cx="572.9" cy="1616.4" r="5.8"/><circle cx="617.7" cy="1460.0" r="5.8"/><circle cx="619.4" cy="1467.7" r="5.8"/><circle cx="610.7" cy="1446.0" r="5.8"/><circle cx="620.6" cy="1453.2" r="5.8"/><circle cx="597.3" cy="1440.2" r="5.8"/><circle cx="608.9" cy="1471.2" r="5.8"/><circle cx="619.6" cy="1459.4" r="5.8"/><circle cx="625.4" cy="1449.6" r="5.8"/><circle cx="608.6" cy="1475.1" r="5.8"/><circle cx="620.5" cy="1455.6" r="5.8"/><circle cx="628.0" cy="1431.6" r="5.8"/><circle cx="615.3" cy="1481.5" r="5.8"/><circle cx="635.2" cy="1563.5" r="5.8"/><circle cx="632.3" cy="1587.3" r="5.8"/><circle cx="637.4" cy="1573.0" r="5.8"/><circle cx="626.6" cy="1594.9" r="5.8"/><circle cx="639.6" cy="1573.7" r="5.8"/><circle cx="615.6" cy="1558.7" r="5.8"/><circle cx="627.3" cy="1554.9" r="5.8"/><circle cx="634.0" cy="1560.2" r="5.8"/><circle cx="607.6" cy="1616.5" r="5.8"/><circle cx="619.9" cy="1602.8" r="5.8"/><circle cx="657.3" cy="1604.6" r="5.8"/><circle cx="658.4" cy="1649.0" r="5.8"/><circle cx="649.6" cy="1644.3" r="5.8"/><circle cx="684.1" cy="1630.8" r="5.8"/><circle cx="653.3" cy="1633.8" r="5.8"/><circle cx="685.3" cy="1625.6" r="5.8"/><circle cx="651.0" cy="1626.6" r="5.8"/><circle cx="687.8" cy="1625.4" r="5.8"/><circle cx="647.5" cy="1602.1" r="5.8"/><circle cx="671.5" cy="1592.9" r="5.8"/><circle cx="640.1" cy="1612.4" r="5.8"/><circle cx="652.9" cy="1619.6" r="5.8"/><circle cx="643.7" cy="1623.6" r="5.8"/><circle cx="673.8" cy="1609.0" r="5.8"/><circle cx="681.6" cy="1522.2" r="5.8"/><circle cx="685.8" cy="1526.1" r="5.8"/><circle cx="682.8" cy="1525.1" r="5.8"/><circle cx="686.5" cy="1487.7" r="5.8"/><circle cx="672.3" cy="1549.3" r="5.8"/><circle cx="686.7" cy="1480.6" r="5.8"/><circle cx="687.9" cy="1528.7" r="5.8"/><circle cx="687.1" cy="1536.1" r="5.8"/><circle cx="693.2" cy="1488.0" r="5.8"/><circle cx="706.8" cy="1529.7" r="5.8"/><circle cx="696.5" cy="1499.0" r="5.8"/><circle cx="692.7" cy="1545.5" r="5.8"/><circle cx="696.2" cy="1494.7" r="5.8"/><circle cx="714.5" cy="1548.5" r="5.8"/><circle cx="686.2" cy="1493.8" r="5.8"/><circle cx="705.5" cy="1507.1" r="5.8"/><circle cx="696.6" cy="1527.9" r="5.8"/><circle cx="689.6" cy="1521.6" r="5.8"/><circle cx="687.1" cy="1495.5" r="5.8"/><circle cx="699.1" cy="1509.9" r="5.8"/><circle cx="711.3" cy="1490.0" r="5.8"/><circle cx="712.1" cy="1498.3" r="5.8"/><circle cx="692.0" cy="1487.4" r="5.8"/><circle cx="691.1" cy="1548.7" r="5.8"/><circle cx="702.2" cy="1465.9" r="5.8"/><circle cx="714.5" cy="1462.4" r="5.8"/><circle cx="698.7" cy="1455.8" r="5.8"/><circle cx="698.3" cy="1451.2" r="5.8"/><circle cx="713.7" cy="1414.1" r="5.8"/><circle cx="724.8" cy="1423.1" r="5.8"/><circle cx="712.3" cy="1416.4" r="5.8"/><circle cx="707.6" cy="1412.9" r="5.8"/><circle cx="758.2" cy="1491.6" r="5.8"/><circle cx="760.7" cy="1495.6" r="5.8"/><circle cx="768.2" cy="1495.9" r="5.8"/><circle cx="770.7" cy="1510.8" r="5.8"/><circle cx="772.9" cy="1495.0" r="5.8"/><circle cx="772.9" cy="1500.4" r="5.8"/><circle cx="797.7" cy="1643.4" r="5.8"/><circle cx="790.8" cy="1640.1" r="5.8"/><circle cx="795.1" cy="1641.9" r="5.8"/><circle cx="858.8" cy="1651.2" r="5.8"/><circle cx="854.3" cy="1630.9" r="5.8"/><circle cx="852.7" cy="1642.5" r="5.8"/><circle cx="853.7" cy="1647.5" r="5.8"/><circle cx="900.2" cy="1635.4" r="5.8"/><circle cx="931.2" cy="1666.9" r="5.8"/><circle cx="924.1" cy="1649.6" r="5.8"/><circle cx="921.1" cy="1670.0" r="5.8"/><circle cx="927.7" cy="1634.9" r="5.8"/><circle cx="917.3" cy="1666.1" r="5.8"/><circle cx="919.3" cy="1643.9" r="5.8"/><circle cx="910.8" cy="1648.2" r="5.8"/><circle cx="917.1" cy="1666.3" r="5.8"/><circle cx="935.0" cy="1669.7" r="5.8"/><circle cx="933.3" cy="1607.8" r="5.8"/><circle cx="902.5" cy="1627.0" r="5.8"/><circle cx="928.9" cy="1641.3" r="5.8"/><circle cx="909.0" cy="1611.5" r="5.8"/><circle cx="908.8" cy="1613.3" r="5.8"/><circle cx="887.2" cy="1679.8" r="5.8"/><circle cx="889.7" cy="1656.7" r="5.8"/><circle cx="911.0" cy="1655.2" r="5.8"/><circle cx="921.7" cy="1676.0" r="5.8"/><circle cx="923.9" cy="1679.0" r="5.8"/><circle cx="916.5" cy="1660.7" r="5.8"/><circle cx="901.1" cy="1665.2" r="5.8"/><circle cx="899.6" cy="1686.5" r="5.8"/><circle cx="901.8" cy="1682.0" r="5.8"/><circle cx="911.5" cy="1653.3" r="5.8"/><circle cx="890.5" cy="1673.1" r="5.8"/><circle cx="919.5" cy="1659.3" r="5.8"/><circle cx="820.0" cy="1678.2" r="5.8"/><circle cx="836.7" cy="1679.7" r="5.8"/><circle cx="874.0" cy="1686.3" r="5.8"/><circle cx="822.3" cy="1677.0" r="5.8"/><circle cx="840.6" cy="1670.6" r="5.8"/><circle cx="831.4" cy="1667.3" r="5.8"/><circle cx="852.5" cy="1695.4" r="5.8"/><circle cx="871.9" cy="1685.9" r="5.8"/><circle cx="830.8" cy="1684.6" r="5.8"/><circle cx="844.4" cy="1671.2" r="5.8"/><circle cx="452.4" cy="1501.8" r="5.8"/><circle cx="431.8" cy="1498.8" r="5.8"/><circle cx="470.2" cy="1509.9" r="5.8"/><circle cx="439.7" cy="1487.4" r="5.8"/><circle cx="457.8" cy="1505.0" r="5.8"/><circle cx="437.9" cy="1500.4" r="5.8"/><circle cx="444.4" cy="1509.1" r="5.8"/><circle cx="472.7" cy="1494.9" r="5.8"/><circle cx="452.3" cy="1505.5" r="5.8"/><circle cx="460.0" cy="1487.6" r="5.8"/><circle cx="850.0" cy="1635.0" r="5.8"/><circle cx="761.0" cy="1417.0" r="5.8"/><circle cx="711.0" cy="1432.0" r="5.8"/><circle cx="729.0" cy="1413.0" r="5.8"/><circle cx="693.0" cy="1459.0" r="5.8"/><circle cx="262.0" cy="1530.0" r="5.8"/><circle cx="270.0" cy="1541.0" r="5.8"/><circle cx="276.0" cy="1545.0" r="5.8"/><circle cx="289.0" cy="1554.0" r="5.8"/><circle cx="299.0" cy="1545.0" r="5.8"/><circle cx="308.0" cy="1545.0" r="5.8"/><circle cx="316.0" cy="1541.0" r="5.8"/><circle cx="325.0" cy="1528.0" r="5.8"/><circle cx="325.0" cy="1541.0" r="5.8"/><circle cx="339.0" cy="1523.0" r="5.8"/><circle cx="188.0" cy="1539.0" r="5.8"/><circle cx="181.0" cy="1549.0" r="5.8"/><circle cx="194.0" cy="1549.0" r="5.8"/><circle cx="207.0" cy="1547.0" r="5.8"/><circle cx="186.0" cy="1562.0" r="5.8"/><circle cx="196.0" cy="1570.0" r="5.8"/><circle cx="226.0" cy="1575.0" r="5.8"/><circle cx="225.0" cy="1583.0" r="5.8"/><circle cx="226.0" cy="1589.0" r="5.8"/><circle cx="226.0" cy="1617.0" r="5.8"/><circle cx="219.0" cy="1629.0" r="5.8"/><circle cx="224.0" cy="1636.0" r="5.8"/><circle cx="230.0" cy="1631.0" r="5.8"/><circle cx="264.0" cy="1598.0" r="5.8"/><circle cx="255.0" cy="1608.0" r="5.8"/><circle cx="257.0" cy="1610.0" r="5.8"/><circle cx="255.0" cy="1634.0" r="5.8"/><circle cx="266.0" cy="1636.0" r="5.8"/><circle cx="285.0" cy="1642.0" r="5.8"/><circle cx="280.0" cy="1650.0" r="5.8"/><circle cx="276.0" cy="1659.0" r="5.8"/><circle cx="287.0" cy="1652.0" r="5.8"/><circle cx="318.0" cy="1585.0" r="5.8"/><circle cx="341.0" cy="1586.0" r="5.8"/><circle cx="320.0" cy="1602.0" r="5.8"/><circle cx="331.0" cy="1613.0" r="5.8"/><circle cx="325.0" cy="1619.0" r="5.8"/><circle cx="327.0" cy="1625.0" r="5.8"/><circle cx="329.0" cy="1634.0" r="5.8"/><circle cx="333.0" cy="1650.0" r="5.8"/><circle cx="346.0" cy="1615.0" r="5.8"/><circle cx="341.0" cy="1606.0" r="5.8"/><circle cx="346.0" cy="1636.0" r="5.8"/><circle cx="369.0" cy="1610.0" r="5.8"/><circle cx="377.0" cy="1623.0" r="5.8"/><circle cx="367.0" cy="1642.0" r="5.8"/><circle cx="358.0" cy="1659.0" r="5.8"/><circle cx="154.0" cy="1570.0" r="5.8"/><circle cx="150.0" cy="1590.0" r="5.8"/><circle cx="160.0" cy="1645.0" r="5.8"/><circle cx="165.0" cy="1655.0" r="5.8"/><circle cx="200.0" cy="1640.0" r="5.8"/><circle cx="205.0" cy="1650.0" r="5.8"/><circle cx="240.0" cy="1660.0" r="5.8"/><circle cx="250.0" cy="1665.0" r="5.8"/><circle cx="300.0" cy="1670.0" r="5.8"/><circle cx="310.0" cy="1665.0" r="5.8"/><circle cx="350.0" cy="1670.0" r="5.8"/><circle cx="360.0" cy="1668.0" r="5.8"/></g>
<line x1="715.3" y1="655" x2="715.3" y2="824" stroke="#9fdfe6" stroke-width="1.4" opacity="0.8"/>
<line x1="355" y1="425.7" x2="372" y2="425.7" stroke="#777" stroke-width="4"/>
<ellipse cx="384.4" cy="425.7" rx="13.5" ry="12.5" fill="#aaaaaa" stroke="#0f2233" stroke-width="3"/>
<circle cx="564.4" cy="460" r="9" fill="#f87474" stroke="#111" stroke-width="2.5"/>
<text x="262.9" y="402.7" font-size="24.3" textLength="119.1" lengthAdjust="spacingAndGlyphs" fill="#000">rs1264813</text>
<text x="558.0" y="427.0" font-size="27.5" textLength="131.1" lengthAdjust="spacingAndGlyphs" fill="#000">rs1131212</text>
<circle cx="731.6" cy="1385" r="12.5" fill="#0f2233"/>
<circle cx="587" cy="1375.6" r="12.9" fill="#aaaaaa" stroke="#0f2233" stroke-width="3"/>
<circle cx="734" cy="1380.8" r="12.9" fill="#aaaaaa" stroke="#0f2233" stroke-width="3"/>
<text x="440.5" y="1352.5" font-size="31.2" textLength="153.1" lengthAdjust="spacingAndGlyphs" fill="#000">rs4990036</text>
<text x="713.0" y="1352.5" font-size="31.2" textLength="153.1" lengthAdjust="spacingAndGlyphs" fill="#000">rs9268925</text>
<path d="M577.5,400 L574,39" fill="none" stroke="#777" stroke-width="4" stroke-dasharray="16 11.5"/>
<path d="M586.6,39 L1315.8,39" fill="none" stroke="#777" stroke-width="4" stroke-dasharray="16 11.5"/>
<path d="M1315.3,37 L1315.3,74" fill="none" stroke="#777" stroke-width="4" stroke-dasharray="16 11.5"/>
<polygon points="1315.3,95.3 1303.8,72.0 1326.8,72.0" fill="#777"/>
<line x1="341.5" y1="424" x2="341.5" y2="428.5" stroke="#777" stroke-width="4"/>
<path d="M340.5,440 L338,972 L1091,963 L1091,864 L1131.6,864 L1131.6,900" fill="none" stroke="#777" stroke-width="4" stroke-dasharray="16 11.5"/>
<polygon points="1131.6,918.6 1119.8,895.6 1143.4,895.6" fill="#777"/>
<path d="M754,1310.5 L754,1241" fill="none" stroke="#777" stroke-width="4" stroke-dasharray="16 11.5"/>
<path d="M764.8,1241 L1328.8,1241" fill="none" stroke="#777" stroke-width="4" stroke-dasharray="16 11.5"/>
<path d="M1325.3,1248.6 L1325.3,1370" fill="none" stroke="#777" stroke-width="4" stroke-dasharray="16 11.5"/>
<polygon points="1325.3,1391.7 1313.6,1368.5 1337.0,1368.5" fill="#777"/>
<path d="M1571,476.7 L1660,476.7" fill="none" stroke="#777" stroke-width="4" stroke-dasharray="16 11.5"/>
<polygon points="1681.0,476.7 1658.0,465.7 1658.0,487.7" fill="#777"/>
<path d="M1540.5,976.4 L1628,976.4" fill="none" stroke="#777" stroke-width="4" stroke-dasharray="16 11.5"/>
<polygon points="1649.8,976.4 1626.8,965.4 1626.8,987.4" fill="#777"/>
<path d="M1571.7,1531.5 L1660,1531.5" fill="none" stroke="#777" stroke-width="4" stroke-dasharray="16 11.5"/>
<polygon points="1681.7,1531.5 1658.7,1520.5 1658.7,1542.5" fill="#777"/>
<text x="1010.5" y="29.8" font-size="35" textLength="67" lengthAdjust="spacingAndGlyphs" fill="#000">r<tspan font-size="25" dy="-12.5">2</tspan><tspan dy="12.5">=1</tspan></text>
<text x="999.9" y="72.0" font-size="39.1" textLength="93.4" lengthAdjust="spacingAndGlyphs" fill="#000">C &gt;G</text>
<text x="999.9" y="186.7" font-size="34.1" textLength="76.0" lengthAdjust="spacingAndGlyphs" fill="#444">DNA</text>
<text x="1130.0" y="134.0" font-size="47.8" textLength="391.2" lengthAdjust="spacingAndGlyphs" fill="#000">5’TGCGTGGGC3’</text>
<text x="1126.0" y="197.0" font-size="47.8" textLength="397.2" lengthAdjust="spacingAndGlyphs" fill="#000">3’ACGCACCCG5’</text>
<rect x="1286" y="92.5" width="40" height="117.5" fill="none" stroke="#999" stroke-width="2.2" stroke-dasharray="7 5"/>
<path d="M1170,206 L1170.5,220 Q1171,232 1181,232 L1211.5,232 Q1219.5,232 1219.5,240 M1219.5,240 Q1219.5,232 1227.5,232 L1258,232 Q1268,232 1268.5,220 L1269,206" fill="none" stroke="#444" stroke-width="8"/><polygon points="1216.0,234 1223.0,234 1224.8,259 1214.2,259" fill="#444"/>
<path d="M1291,206 L1291.5,220 Q1292,232 1302,232 L1332.0,232 Q1340.0,232 1340.0,240 M1340.0,240 Q1340.0,232 1348.0,232 L1378,232 Q1388,232 1388.5,220 L1389,206" fill="none" stroke="#444" stroke-width="8"/><polygon points="1336.5,234 1343.5,234 1345.3,259 1334.7,259" fill="#444"/>
<path d="M1407,206 L1407.5,220 Q1408,232 1418,232 L1449.0,232 Q1457.0,232 1457.0,240 M1457.0,240 Q1457.0,232 1465.0,232 L1496,232 Q1506,232 1506.5,220 L1507,206" fill="none" stroke="#444" stroke-width="8"/><polygon points="1453.5,234 1460.5,234 1462.3,259 1451.7,259" fill="#444"/>
<rect x="1266" y="297" width="24" height="10" fill="#444"/>
<rect x="1388" y="297" width="24" height="10" fill="#444"/>
<rect x="1167" y="272" width="99" height="63" rx="9" fill="#d9d9d9" stroke="#0f2233" stroke-width="4"/>
<rect x="1289" y="274" width="99.5" height="63" rx="9" fill="#f04848" stroke="#0f2233" stroke-width="4"/>
<rect x="1412" y="272" width="99" height="62" rx="9" fill="#d9d9d9" stroke="#0f2233" stroke-width="4"/>
<text x="1177.0" y="319.0" font-size="49.3" textLength="71.8" lengthAdjust="spacingAndGlyphs" fill="#000">Ala</text>
<text x="1290.7" y="322.0" font-size="50.7" textLength="78.4" lengthAdjust="spacingAndGlyphs" fill="#000">His</text>
<text x="1422.0" y="316.0" font-size="49.3" textLength="73.8" lengthAdjust="spacingAndGlyphs" fill="#000">Ala</text>
<text x="1189.8" y="371.6" font-size="34.8" textLength="47.5" lengthAdjust="spacingAndGlyphs" fill="#000">95</text>
<text x="1313.9" y="373.0" font-size="36.2" textLength="47.3" lengthAdjust="spacingAndGlyphs" fill="#000">94</text>
<text x="1438.4" y="375.0" font-size="36.2" textLength="47.2" lengthAdjust="spacingAndGlyphs" fill="#000">93</text>
<text x="999.9" y="294.6" font-size="27.5" textLength="92.1" lengthAdjust="spacingAndGlyphs" fill="#000">Protein</text>
<polygon points="1272.8,445.5 1299.0,439.0 1331.8,442.0 1358.0,478.0 1377.6,488.0 1413.7,462.0 1426.8,445.5 1459.6,435.7 1485.8,445.5 1508.7,465.0 1528.4,478.0 1551.3,481.6 1567.7,511.0 1580.8,543.8 1594.0,583.0 1600.5,609.0 1590.6,629.0 1574.0,652.0 1577.5,675.0 1571.0,698.0 1557.9,720.8 1541.5,727.3 1525.0,747.0 1502.0,766.6 1485.8,783.0 1462.8,799.4 1436.6,806.0 1410.4,802.7 1397.3,819.0 1403.9,838.7 1390.8,855.0 1364.5,861.6 1338.3,855.0 1312.0,845.3 1286.0,835.4 1266.0,845.3 1233.5,838.7 1207.3,819.0 1194.2,793.0 1190.9,766.6 1174.5,740.4 1151.6,720.8 1131.9,701.0 1127.0,681.4 1138.5,661.8 1158.0,648.7 1148.3,629.0 1154.8,602.8 1174.5,570.0 1171.2,530.7 1181.0,511.0 1200.7,498.0 1227.0,488.0 1246.6,462.0" fill="#ececec" stroke="#e0e0e0" stroke-width="6" stroke-linejoin="round"/><g fill="#f5f5f5"><ellipse cx="1215" cy="520" rx="30" ry="18"/><ellipse cx="1300" cy="470" rx="25" ry="15"/><ellipse cx="1530" cy="560" rx="25" ry="35"/><ellipse cx="1250" cy="800" rx="40" ry="20"/><ellipse cx="1340" cy="820" rx="35" ry="18"/><ellipse cx="1180" cy="700" rx="25" ry="15"/></g><g fill="#e2e2e2"><ellipse cx="1170" cy="640" rx="15" ry="25"/><ellipse cx="1480" cy="760" rx="25" ry="15"/><ellipse cx="1290" cy="835" rx="30" ry="10"/></g><path d="M1262,522 C1268,505 1280,490 1300,482 C1312,478 1305,452 1318,448 C1330,445 1335,470 1345,490 C1352,505 1368,505 1372,520" fill="none" stroke="#707070" stroke-width="5" stroke-linecap="round"/><path d="M1262,522 C1268,505 1280,490 1300,482 C1312,478 1305,452 1318,448 C1330,445 1335,470 1345,490 C1352,505 1368,505 1372,520" fill="none" stroke="#b8b8b8" stroke-width="2" stroke-linecap="round"/><path d="M1420,520 C1425,500 1432,480 1436,465 C1442,450 1460,452 1463,462 C1468,480 1470,505 1478,520" fill="none" stroke="#707070" stroke-width="5" stroke-linecap="round"/><path d="M1420,520 C1425,500 1432,480 1436,465 C1442,450 1460,452 1463,462 C1468,480 1470,505 1478,520" fill="none" stroke="#b8b8b8" stroke-width="2" stroke-linecap="round"/><path d="M1500,545 C1510,530 1525,520 1535,505 C1545,495 1552,505 1548,520 C1540,560 1555,600 1545,615 C1535,625 1528,610 1522,600" fill="none" stroke="#707070" stroke-width="5" stroke-linecap="round"/><path d="M1500,545 C1510,530 1525,520 1535,505 C1545,495 1552,505 1548,520 C1540,560 1555,600 1545,615 C1535,625 1528,610 1522,600" fill="none" stroke="#b8b8b8" stroke-width="2" stroke-linecap="round"/><path d="M1188,545 C1175,552 1165,560 1170,572 C1178,582 1190,575 1196,572" fill="none" stroke="#707070" stroke-width="5" stroke-linecap="round"/><path d="M1188,545 C1175,552 1165,560 1170,572 C1178,582 1190,575 1196,572" fill="none" stroke="#b8b8b8" stroke-width="2" stroke-linecap="round"/><path d="M1225,650 C1230,640 1245,630 1260,625" fill="none" stroke="#707070" stroke-width="5" stroke-linecap="round"/><path d="M1225,650 C1230,640 1245,630 1260,625" fill="none" stroke="#b8b8b8" stroke-width="2" stroke-linecap="round"/><path d="M1222,722 C1212,735 1205,750 1200,765 C1196,778 1212,772 1225,765 C1245,755 1270,750 1290,745" fill="none" stroke="#707070" stroke-width="5" stroke-linecap="round"/><path d="M1222,722 C1212,735 1205,750 1200,765 C1196,778 1212,772 1225,765 C1245,755 1270,750 1290,745" fill="none" stroke="#b8b8b8" stroke-width="2" stroke-linecap="round"/><path d="M1382,748 C1375,760 1378,775 1386,780 C1400,775 1420,760 1440,752" fill="none" stroke="#707070" stroke-width="5" stroke-linecap="round"/><path d="M1382,748 C1375,760 1378,775 1386,780 C1400,775 1420,760 1440,752" fill="none" stroke="#b8b8b8" stroke-width="2" stroke-linecap="round"/><path d="M1455,720 C1462,735 1470,740 1485,735" fill="none" stroke="#707070" stroke-width="5" stroke-linecap="round"/><path d="M1455,720 C1462,735 1470,740 1485,735" fill="none" stroke="#b8b8b8" stroke-width="2" stroke-linecap="round"/><g><polygon points="1268.2,704.2 1336.2,604.2 1323.8,595.8 1255.8,695.8" fill="#d8d8d8" stroke="#8e8e8e" stroke-width="1.6" stroke-linejoin="round"/><polygon points="1288.3,729.1 1356.5,624.2 1361.5,627.4 1360.0,605.0 1338.9,612.7 1343.9,616.0 1275.7,720.9" fill="#c8c8c8" stroke="#8e8e8e" stroke-width="1.6" stroke-linejoin="round"/><polygon points="1306.3,754.1 1398.3,614.1 1385.7,605.9 1293.7,745.9" fill="#d8d8d8" stroke="#8e8e8e" stroke-width="1.6" stroke-linejoin="round"/><polygon points="1331.4,773.9 1417.2,631.3 1422.3,634.4 1420.0,612.0 1399.2,620.5 1404.3,623.6 1318.6,766.1" fill="#c8c8c8" stroke="#8e8e8e" stroke-width="1.6" stroke-linejoin="round"/><polygon points="1366.2,779.2 1456.2,644.2 1443.8,635.8 1353.8,770.8" fill="#d8d8d8" stroke="#8e8e8e" stroke-width="1.6" stroke-linejoin="round"/><polygon points="1406.2,769.2 1466.3,679.1 1471.2,682.5 1470.0,660.0 1448.8,667.5 1453.8,670.8 1393.8,760.8" fill="#c8c8c8" stroke="#8e8e8e" stroke-width="1.6" stroke-linejoin="round"/><polygon points="1435.5,750.1 1495.5,685.1 1484.5,674.9 1424.5,739.9" fill="#d8d8d8" stroke="#8e8e8e" stroke-width="1.6" stroke-linejoin="round"/></g><path d="M1275,628 C1290,624 1300,616 1315,620 C1325,625 1323,641 1335,632 C1345,620 1360,617 1375,628 C1390,640 1400,622 1420,622 C1440,622 1452,612 1468,622" fill="none" stroke="#cc3399" stroke-width="4"/><defs><linearGradient id="hxg" x1="0" y1="0" x2="1" y2="0"><stop offset="0" stop-color="#9a9a9a"/><stop offset="0.45" stop-color="#c9c9c9"/><stop offset="1" stop-color="#a2a2a2"/></linearGradient></defs><g fill="#7c7c7c" stroke="#5e5e5e" stroke-width="1.2"><path d="M1214.0,574.0 L1226.0,574.0 L1239.5,527.5 L1229.5,527.5 Z"/><path d="M1261.5,573.5 L1273.5,573.5 L1287.0,527.0 L1277.0,527.0 Z"/><path d="M1309.0,573.0 L1321.0,573.0 L1334.5,526.6 L1324.5,526.6 Z"/><path d="M1356.5,572.6 L1368.5,572.6 L1382.0,526.1 L1372.0,526.1 Z"/><path d="M1404.0,572.1 L1416.0,572.1 L1429.5,525.6 L1419.5,525.6 Z"/></g><g fill="url(#hxg)" stroke="#6a6a6a" stroke-width="1.4"><path d="M1182.0,528.0 L1206.0,528.0 Q1220.0,551.0 1226.0,574.0 L1202.0,574.0 Q1188.0,551.0 1182.0,528.0 Z"/><path d="M1229.5,527.5 L1253.5,527.5 Q1267.5,550.5 1273.5,573.5 L1249.5,573.5 Q1235.5,550.5 1229.5,527.5 Z"/><path d="M1277.0,527.0 L1301.0,527.0 Q1315.0,550.0 1321.0,573.0 L1297.0,573.0 Q1283.0,550.0 1277.0,527.0 Z"/><path d="M1324.5,526.6 L1348.5,526.6 Q1362.5,549.6 1368.5,572.6 L1344.5,572.6 Q1330.5,549.6 1324.5,526.6 Z"/><path d="M1372.0,526.1 L1396.0,526.1 Q1410.0,549.1 1416.0,572.1 L1392.0,572.1 Q1378.0,549.1 1372.0,526.1 Z"/><path d="M1419.5,525.6 L1443.5,525.6 Q1457.5,548.6 1463.5,571.6 L1439.5,571.6 Q1425.5,548.6 1419.5,525.6 Z"/></g><g fill="#767676" stroke="#5a5a5a" stroke-width="1.2"><path d="M1491.7,599.0 L1502.5,599.0 L1514.8,562.0 L1506.0,562.0 Z"/></g><g fill="url(#hxg)" stroke="#666" stroke-width="1.4"><path d="M1462.0,551.0 Q1473.0,545.0 1484.0,550.0 Q1498.8,574.0 1502.5,598.0 Q1491.5,603.0 1480.5,597.0 Q1465.7,574.0 1462.0,551.0 Z"/><path d="M1506.0,563.0 Q1517.5,557.0 1529.0,562.0 Q1544.5,586.0 1548.3,610.0 Q1536.8,615.0 1525.3,609.0 Q1509.9,586.0 1506.0,563.0 Z"/></g><defs><linearGradient id="hxg2" x1="0" y1="0" x2="1" y2="0"><stop offset="0" stop-color="#888"/><stop offset="0.45" stop-color="#b4b4b4"/><stop offset="1" stop-color="#8e8e8e"/></linearGradient></defs><g fill="#767676" stroke="#5a5a5a" stroke-width="1.2"><path d="M1184.3,706.0 L1192.5,706.0 L1201.2,655.0 L1195.0,655.0 Z"/><path d="M1217.1,710.0 L1225.8,710.0 L1235.2,663.0 L1228.5,663.0 Z"/><path d="M1248.8,716.0 L1257.0,716.0 L1267.8,674.0 L1261.6,674.0 Z"/><path d="M1281.9,722.0 L1290.1,722.0 L1306.2,678.0 L1300.0,678.0 Z"/><path d="M1326.8,720.0 L1336.8,720.0 L1351.0,678.0 L1343.0,678.0 Z"/><path d="M1368.4,718.0 L1378.0,718.0 L1390.6,678.0 L1383.0,678.0 Z"/><path d="M1407.6,716.0 L1417.0,716.0 L1427.4,659.0 L1420.0,659.0 Z"/><path d="M1446.8,706.0 L1456.8,706.0 L1468.0,653.0 L1460.0,653.0 Z"/><path d="M1478.2,702.0 L1485.8,702.0 L1492.6,651.0 L1487.0,651.0 Z"/><path d="M1503.7,697.5 L1510.9,697.5 L1517.2,651.0 L1512.0,651.0 Z"/></g><g fill="url(#hxg2)" stroke="#666" stroke-width="1.4"><path d="M1164.0,652.0 Q1171.8,646.0 1179.5,651.0 Q1189.9,678.0 1192.5,705.0 Q1184.8,710.0 1177.0,704.0 Q1166.6,678.0 1164.0,652.0 Z"/><path d="M1195.0,656.0 Q1203.4,650.0 1211.8,655.0 Q1223.0,682.0 1225.8,709.0 Q1217.4,714.0 1209.1,708.0 Q1197.8,682.0 1195.0,656.0 Z"/><path d="M1228.5,664.0 Q1236.2,658.0 1244.0,663.0 Q1254.4,689.0 1257.0,715.0 Q1249.3,720.0 1241.5,714.0 Q1231.1,689.0 1228.5,664.0 Z"/><path d="M1261.6,675.0 Q1269.3,669.0 1277.1,674.0 Q1287.5,697.5 1290.1,721.0 Q1282.4,726.0 1274.6,720.0 Q1264.2,697.5 1261.6,675.0 Z"/><path d="M1300.0,679.0 Q1310.0,673.0 1320.0,678.0 Q1333.4,698.5 1336.8,719.0 Q1326.8,724.0 1316.8,718.0 Q1303.4,698.5 1300.0,679.0 Z"/><path d="M1343.0,679.0 Q1352.5,673.0 1362.0,678.0 Q1374.8,697.5 1378.0,717.0 Q1368.5,722.0 1359.0,716.0 Q1346.2,697.5 1343.0,679.0 Z"/><path d="M1383.0,679.0 Q1392.2,673.0 1401.5,678.0 Q1413.9,696.5 1417.0,715.0 Q1407.8,720.0 1398.5,714.0 Q1386.1,696.5 1383.0,679.0 Z"/><path d="M1420.0,660.0 Q1430.0,654.0 1440.0,659.0 Q1453.4,682.0 1456.8,705.0 Q1446.8,710.0 1436.8,704.0 Q1423.4,682.0 1420.0,660.0 Z"/><path d="M1460.0,654.0 Q1467.0,648.0 1474.0,653.0 Q1483.4,677.0 1485.8,701.0 Q1478.8,706.0 1471.8,700.0 Q1462.4,677.0 1460.0,654.0 Z"/><path d="M1487.0,652.0 Q1493.5,646.0 1500.0,651.0 Q1508.7,673.8 1510.9,696.5 Q1504.4,701.5 1497.9,695.5 Q1489.2,673.8 1487.0,652.0 Z"/><path d="M1512.0,652.0 Q1520.5,646.0 1529.0,651.0 Q1540.4,671.5 1543.3,692.0 Q1534.8,697.0 1526.3,691.0 Q1514.9,671.5 1512.0,652.0 Z"/></g><ellipse cx="1211" cy="607" rx="14" ry="17" fill="none" stroke="#5e5e5e" stroke-width="9"/><ellipse cx="1211" cy="607" rx="14" ry="17" fill="none" stroke="#7a7a7a" stroke-width="6"/><g fill="#3540e0" stroke="#2a33b0" stroke-width="1"><circle cx="1364" cy="580" r="11"/><circle cx="1376" cy="570" r="10"/><circle cx="1389" cy="563" r="9"/><circle cx="1372" cy="556" r="8"/><circle cx="1384" cy="576" r="8"/></g><g fill="#8a3a3a" stroke="#6a2a2a" stroke-width="1"><circle cx="1446" cy="583" r="12"/><circle cx="1458" cy="598" r="11"/><circle cx="1440" cy="572" r="8"/><circle cx="1452" cy="610" r="7"/></g>
<path d="M1351,391 L1351,425 Q1352,462 1395,470 Q1440,480 1448,530" fill="none" stroke="#444" stroke-width="11.5"/>
<polygon points="1436,526 1462,526 1452,559" fill="#444"/>
<text x="1095.4" y="485.5" font-size="39.1" textLength="120.1" lengthAdjust="spacingAndGlyphs" font-weight="bold" fill="#000">HLA-B</text>
<text x="1298.4" y="585.0" font-size="36.2" textLength="44.3" lengthAdjust="spacingAndGlyphs" font-weight="bold" fill="#000">70</text>
<text x="1463.5" y="585.0" font-size="37.7" textLength="49.2" lengthAdjust="spacingAndGlyphs" font-weight="bold" fill="#000">94</text>
<line x1="1115" y1="932.4" x2="1306.6" y2="932.4" stroke="#2b3a8c" stroke-width="3"/><rect x="1140.7" y="912" width="145.3" height="40" rx="4" fill="#e5e9fb" stroke="#7c8cc4" stroke-width="1.5"/><text x="1170.0" y="939.0" font-size="20.3" textLength="87.1" lengthAdjust="spacingAndGlyphs" fill="#000">HLA-A*24</text><polyline points="1177.6,961 1216,1001 1226,1001 1250.7,961" fill="none" stroke="#333" stroke-width="1.6"/><text x="1257.9" y="992.0" font-size="13.8" textLength="43.1" lengthAdjust="spacingAndGlyphs" fill="#000">HLA-C</text><text x="1301.6" y="979.5" font-size="13.8" textLength="37.9" lengthAdjust="spacingAndGlyphs" fill="#000">HLA-B</text><line x1="1291" y1="993" x2="1291" y2="1005" stroke="#222" stroke-width="1.6"/><line x1="1308.5" y1="986" x2="1308.5" y2="1005" stroke="#222" stroke-width="1.6"/><rect x="1173" y="1010" width="327.4" height="33" fill="#eef3fb" stroke="#9fb2d8" stroke-width="1.5"/><rect x="1212" y="1011" width="14" height="31" fill="#1f5c99"/><rect x="1284" y="1011" width="15" height="31" fill="#1f5c99"/><rect x="1304" y="1011" width="14" height="31" fill="#1f5c99"/><rect x="1385" y="1011" width="8" height="31" fill="#1f5c99"/><rect x="1402" y="1011" width="6" height="31" fill="#1f5c99"/><rect x="1466" y="1011" width="6.5" height="31" fill="#1f5c99"/><line x1="1193" y1="1050" x2="1432" y2="1095.5" stroke="#333" stroke-width="1.3"/><line x1="1497" y1="1049" x2="1446" y2="1095.5" stroke="#333" stroke-width="1.3"/><defs><clipPath id="chc"><path d="M1108.5,1099.5 L1329,1099.5 Q1350,1099.5 1354,1118 Q1358,1099.5 1379,1099.5 L1518,1099.5 A24.5,24.5 0 0 1 1518,1148.6 L1379,1148.6 Q1358,1148.6 1354,1130 Q1350,1148.6 1329,1148.6 L1108.5,1148.6 A24.5,24.5 0 0 1 1108.5,1099.5 Z"/></clipPath></defs><g clip-path="url(#chc)"><rect x="1080" y="1095" width="470" height="60" fill="#8aa4e0"/><rect x="1141.4" y="1095" width="18.59999999999991" height="60" fill="#1a1f6e"/><rect x="1182.7" y="1095" width="32.299999999999955" height="60" fill="#1a1f6e"/><rect x="1252" y="1095" width="17" height="60" fill="#1a1f6e"/><rect x="1292" y="1095" width="32" height="60" fill="#1a1f6e"/><rect x="1413.5" y="1095" width="16.90000000000009" height="60" fill="#1a1f6e"/><rect x="1446" y="1095" width="34" height="60" fill="#1a1f6e"/></g><rect x="1430.4" y="1095.5" width="15.6" height="55.5" fill="#d5def2" stroke="#8a8a70" stroke-width="1.5"/><text x="1234.8" y="1190.0" font-size="21.0" textLength="142.5" lengthAdjust="spacingAndGlyphs" fill="#000">Chromosome 6</text>
<text x="907" y="1014.3" font-size="37.5" textLength="135.5" lengthAdjust="spacingAndGlyphs" fill="#000">r<tspan font-size="24" dy="-14.5">2</tspan><tspan dy="14.5">=0.77</tspan></text>
<rect x="1197" y="1435" width="16" height="10" fill="#444"/><rect x="1411" y="1435" width="16" height="10" fill="#444"/><rect x="997.6" y="1412.2" width="200" height="61" rx="10" fill="#cdeefa" stroke="#0d2436" stroke-width="4.5"/><rect x="1211.2" y="1409.2" width="201" height="61.6" rx="10" fill="#cdeefa" stroke="#0d2436" stroke-width="4.5"/><rect x="1426.6" y="1409.2" width="200.7" height="61.6" rx="10" fill="#cdeefa" stroke="#0d2436" stroke-width="4.5"/><text x="1009.0" y="1451.3" font-size="29.9" textLength="154.6" lengthAdjust="spacingAndGlyphs" font-weight="bold" fill="#000">DRB1*15:01</text><text x="1223.6" y="1448.0" font-size="29.9" textLength="158.3" lengthAdjust="spacingAndGlyphs" font-weight="bold" fill="#000">DQA1*01:02</text><text x="1437.3" y="1448.0" font-size="29.9" textLength="158.0" lengthAdjust="spacingAndGlyphs" font-weight="bold" fill="#000">DQB1*06:02</text><text x="1251.6" y="1527.7" font-size="35.1" textLength="176.6" lengthAdjust="spacingAndGlyphs" fill="#444">Haplotype</text><line x1="1046.5" y1="1485.6" x2="1361" y2="1645" stroke="#808080" stroke-width="3.7"/><line x1="1590.4" y1="1491.5" x2="1374" y2="1645" stroke="#808080" stroke-width="3.7"/><polygon points="1137.8,1651.1 1140.2,1646.1 1141.8,1641.8 1142.8,1637.2 1147.0,1635.6 1151.3,1633.5 1156.2,1633.3 1159.6,1632.4 1164.6,1634.0 1168.5,1633.3 1173.3,1632.9 1177.1,1633.6 1179.8,1633.6 1184.2,1635.1 1188.0,1634.9 1192.8,1634.8 1196.7,1634.7 1199.9,1635.3 1205.0,1636.1 1208.4,1636.8 1212.7,1636.7 1217.3,1637.8 1220.3,1638.0 1224.9,1638.9 1229.3,1638.3 1233.8,1638.6 1236.8,1640.3 1240.3,1640.5 1244.2,1641.4 1249.5,1641.8 1253.7,1642.0 1257.5,1643.1 1261.3,1643.4 1265.8,1644.9 1269.0,1645.4 1272.2,1646.6 1277.1,1648.1 1281.3,1647.9 1284.4,1649.6 1287.6,1650.3 1291.8,1650.7 1295.2,1654.0 1299.0,1655.3 1303.1,1658.6 1306.1,1660.0 1310.6,1662.9 1314.7,1665.5 1317.4,1667.2 1321.2,1670.6 1325.9,1671.8 1328.1,1674.5 1331.4,1678.7 1335.2,1682.2 1329.0,1683.8 1324.5,1685.4 1320.4,1686.9 1316.0,1685.0 1312.7,1682.1 1309.4,1681.6 1305.8,1679.9 1301.3,1677.3 1296.2,1676.8 1291.6,1674.9 1287.3,1674.2 1283.0,1673.1 1277.9,1672.3 1273.5,1671.8 1268.8,1672.9 1265.4,1671.7 1260.2,1672.2 1255.8,1672.0 1252.2,1673.7 1247.0,1672.9 1242.2,1672.8 1238.7,1673.5 1235.5,1673.9 1230.0,1675.8 1226.9,1674.8 1222.9,1675.1 1218.8,1677.4 1215.4,1677.4 1210.3,1677.3 1206.1,1678.4 1202.7,1678.8 1198.3,1678.2 1195.2,1680.0 1191.2,1680.1 1187.1,1680.4 1182.0,1680.4 1178.2,1679.9 1173.6,1680.7 1169.5,1681.5 1166.2,1681.0 1161.6,1682.0 1157.1,1680.9 1152.2,1678.5 1148.5,1676.3 1145.6,1675.5 1142.4,1672.6 1139.8,1667.7 1136.5,1662.0 1138.4,1657.2" fill="#1f5f8f"/><polygon points="1137.7,1711.6 1139.4,1707.8 1142.4,1703.4 1146.3,1698.4 1149.2,1698.6 1153.8,1696.5 1156.7,1695.7 1162.1,1696.2 1164.7,1695.5 1170.8,1695.8 1174.2,1696.2 1178.3,1695.9 1184.4,1697.6 1188.1,1698.7 1192.5,1699.2 1197.2,1698.4 1200.2,1699.0 1204.2,1699.9 1208.3,1700.0 1212.1,1701.3 1216.5,1700.9 1221.0,1702.1 1224.7,1702.5 1228.9,1702.2 1232.9,1701.5 1236.8,1702.0 1240.1,1703.3 1244.4,1702.9 1249.4,1703.3 1252.8,1703.4 1257.2,1704.1 1260.4,1703.9 1264.7,1703.6 1270.2,1703.4 1274.3,1703.3 1279.5,1702.1 1283.5,1701.6 1287.9,1701.3 1292.3,1700.4 1296.0,1699.3 1300.0,1697.4 1304.1,1694.5 1307.0,1693.9 1311.1,1690.6 1314.1,1688.8 1318.2,1686.0 1322.5,1684.3 1329.6,1685.8 1334.4,1686.6 1333.2,1689.3 1331.5,1694.6 1328.2,1698.3 1325.5,1700.2 1323.5,1703.5 1319.0,1705.5 1316.6,1708.1 1313.0,1710.7 1310.9,1712.9 1306.7,1715.5 1301.9,1717.1 1299.1,1719.3 1294.2,1721.9 1291.6,1723.7 1286.5,1724.3 1282.5,1727.0 1278.9,1727.0 1275.1,1729.7 1271.8,1729.7 1266.5,1732.1 1263.3,1732.9 1258.4,1733.0 1255.4,1734.8 1250.3,1737.0 1247.3,1737.9 1242.2,1738.6 1238.2,1739.2 1234.8,1738.9 1231.0,1740.6 1226.4,1739.7 1222.9,1740.5 1218.1,1741.0 1214.0,1741.7 1210.4,1742.5 1207.2,1742.6 1202.7,1742.6 1198.4,1742.6 1194.1,1742.8 1191.0,1743.9 1186.0,1744.0 1183.3,1743.5 1179.0,1744.3 1174.4,1745.2 1169.9,1744.7 1166.1,1745.5 1161.1,1745.2 1157.4,1744.9 1152.5,1744.4 1147.6,1740.9 1143.4,1739.0 1139.5,1735.0 1138.1,1731.8 1138.4,1727.2 1136.3,1722.0 1136.6,1717.0" fill="#1f5f8f"/><polygon points="1322.6,1686.1 1325.7,1684.1 1329.9,1680.3 1331.5,1678.1 1334.5,1674.0 1336.8,1671.1 1341.3,1668.6 1344.5,1665.9 1347.7,1662.7 1351.5,1660.3 1355.1,1657.2 1359.2,1655.1 1363.3,1653.2 1367.2,1651.1 1370.8,1649.0 1373.8,1645.6 1378.8,1643.7 1382.2,1643.1 1384.9,1641.9 1390.3,1639.9 1393.9,1638.7 1396.7,1636.6 1401.3,1635.6 1405.8,1635.4 1409.5,1635.3 1413.7,1634.8 1416.9,1633.4 1420.8,1633.8 1424.7,1634.4 1429.6,1633.9 1433.7,1633.8 1437.5,1632.3 1442.8,1634.4 1447.0,1634.7 1452.0,1634.6 1456.8,1635.7 1460.4,1636.4 1462.9,1641.3 1464.2,1647.6 1465.1,1651.5 1464.1,1657.0 1463.6,1661.9 1462.3,1665.9 1457.3,1666.8 1454.3,1667.5 1449.9,1667.6 1444.9,1668.6 1441.9,1670.0 1437.9,1669.9 1433.5,1670.0 1429.4,1669.2 1426.2,1669.1 1422.3,1670.2 1416.5,1669.2 1413.9,1669.9 1409.2,1668.4 1404.8,1669.4 1400.7,1668.6 1396.1,1669.1 1393.0,1669.0 1388.2,1670.3 1383.8,1671.2 1378.1,1672.2 1374.0,1671.2 1369.2,1673.6 1366.1,1674.7 1361.6,1676.3 1358.0,1678.7 1353.5,1680.1 1351.1,1680.4 1347.0,1684.1 1342.7,1686.0 1337.5,1688.7 1333.8,1688.2 1327.8,1687.0" fill="#1f5f8f"/><polygon points="1322.8,1680.3 1326.4,1683.7 1330.7,1685.9 1334.6,1686.7 1339.0,1688.6 1342.7,1691.9 1347.5,1693.7 1351.0,1696.0 1355.5,1697.4 1359.0,1698.6 1363.0,1701.5 1366.9,1704.0 1370.0,1705.0 1375.6,1705.4 1379.2,1706.0 1383.3,1707.0 1388.9,1706.4 1392.7,1706.7 1397.0,1707.2 1400.7,1707.0 1404.8,1708.4 1409.3,1707.1 1414.1,1708.5 1417.3,1707.0 1420.9,1706.9 1425.2,1706.9 1429.0,1707.2 1433.6,1708.3 1438.0,1707.5 1441.3,1708.6 1445.2,1709.1 1448.6,1709.9 1454.1,1710.6 1457.2,1712.4 1461.8,1712.6 1461.8,1717.6 1463.1,1722.9 1465.2,1728.6 1464.3,1731.4 1462.0,1737.0 1462.8,1741.0 1458.1,1741.0 1453.7,1743.6 1450.4,1744.4 1446.6,1744.2 1440.9,1744.9 1437.6,1746.8 1434.3,1746.7 1429.7,1746.5 1425.4,1745.9 1420.6,1746.2 1416.9,1746.2 1413.6,1744.9 1408.7,1744.6 1405.5,1745.2 1400.6,1743.9 1397.4,1743.5 1393.3,1741.6 1389.8,1739.9 1385.3,1739.4 1382.6,1738.4 1378.6,1736.8 1373.6,1735.1 1371.2,1733.5 1366.4,1729.9 1363.1,1728.6 1359.4,1725.5 1356.2,1724.2 1351.8,1720.2 1348.9,1718.2 1346.5,1715.1 1343.7,1713.3 1340.2,1709.6 1338.0,1707.1 1334.7,1704.2 1330.4,1702.5 1327.4,1700.1 1324.6,1696.0 1320.9,1693.7 1322.3,1690.4 1322.0,1685.2" fill="#1f5f8f"/><polygon points="1150.8,1653.5 1156.3,1639.9 1192.6,1639.9 1228.9,1643.6 1265.2,1649.0 1292.4,1656.3 1310.5,1666.3 1325.0,1677.1 1319.6,1681.7 1301.5,1673.5 1274.2,1667.2 1247.0,1667.7 1210.7,1671.7 1174.4,1673.5 1156.3,1671.7" fill="#2a74ab"/><polygon points="1159.9,1718.9 1167.2,1700.7 1192.6,1703.4 1228.9,1707.1 1265.2,1708.9 1292.4,1705.3 1310.5,1695.3 1323.2,1688.0 1325.0,1695.3 1310.5,1709.8 1283.3,1721.6 1247.0,1731.9 1210.7,1737.0 1174.4,1737.0 1163.5,1731.6" fill="#2a74ab"/><polygon points="1328.7,1686.2 1341.4,1673.5 1355.9,1663.5 1374.0,1650.8 1401.3,1639.9 1437.5,1638.1 1459.3,1641.8 1461.1,1653.5 1457.5,1662.6 1437.5,1664.4 1401.3,1663.0 1374.0,1667.2 1350.4,1676.2 1337.7,1684.4" fill="#2a74ab"/><polygon points="1328.7,1686.2 1346.8,1697.1 1370.4,1709.8 1401.3,1712.5 1437.5,1712.5 1458.4,1717.1 1460.2,1727.9 1457.5,1737.0 1437.5,1739.7 1401.3,1737.9 1374.0,1729.8 1352.3,1716.2 1335.9,1701.6" fill="#2a74ab"/><ellipse cx="1366.6" cy="1653.4" rx="10" ry="11.5" fill="#cdeefa" stroke="#0d2436" stroke-width="4"/><text x="1222.0" y="1768.5" font-size="21.7" textLength="156.4" lengthAdjust="spacingAndGlyphs" fill="#000">Chromosome 6</text>
<text x="999" y="1284" font-size="36.5" textLength="135" lengthAdjust="spacingAndGlyphs" fill="#000">r<tspan font-size="24" dy="-14.5">2</tspan><tspan dy="14.5">=0.96</tspan></text>
<text x="1738.0" y="174.5" font-size="25.4" textLength="21.4" lengthAdjust="spacingAndGlyphs" fill="#444" font-family="DejaVu Sans, sans-serif">△</text><text x="1764.7" y="177.5" font-size="37.7" textLength="187.4" lengthAdjust="spacingAndGlyphs" fill="#000">BIC = +0.11</text><line x1="1812" y1="216" x2="1984" y2="216" stroke="#e6e6e6" stroke-width="2"/><line x1="1812" y1="393" x2="1984" y2="393" stroke="#e6e6e6" stroke-width="1.6"/><line x1="1857.5" y1="205" x2="1857.5" y2="588" stroke="#ececec" stroke-width="2"/><line x1="1933" y1="205" x2="1933" y2="588" stroke="#ececec" stroke-width="2"/><line x1="1811.5" y1="570.4" x2="1984" y2="570.4" stroke="#e01010" stroke-width="4.2" stroke-dasharray="4.2 15.2"/><text x="1757.8" y="226.7" font-size="24.2" textLength="38.3" lengthAdjust="spacingAndGlyphs" fill="#555">1.5</text><text x="1757.8" y="579.5" font-size="24.2" textLength="38.3" lengthAdjust="spacingAndGlyphs" fill="#555">1.0</text><rect x="1855.2" y="220.8" width="4.7" height="197.8" fill="#8b0a0a"/><rect x="1854.0" y="219.8" width="7" height="5" fill="#8b0a0a"/><rect x="1854.0" y="414.6" width="7" height="5" fill="#8b0a0a"/><circle cx="1857.5" cy="320.9" r="15" fill="#8b0a0a"/><rect x="1930.7" y="233.4" width="4.7" height="191.9" fill="#1d3ff0"/><rect x="1929.5" y="232.4" width="7" height="5" fill="#1d3ff0"/><rect x="1929.5" y="421.3" width="7" height="5" fill="#1d3ff0"/><circle cx="1933" cy="327.5" r="15" fill="#1d3ff0"/><g transform="translate(1741.2,552.0) rotate(-90)"><text x="-2.0" y="0.0" font-size="34.0" textLength="314.5" lengthAdjust="spacingAndGlyphs" fill="#000">Odds Ratio (95% CI)</text></g><g transform="translate(1783.6,706.0) rotate(-45)"><text x="-2.1" y="0.0" font-size="25.5" textLength="123.2" lengthAdjust="spacingAndGlyphs" fill="#333">rs1131212</text></g><g transform="translate(1839.3,722.7) rotate(-45)"><text x="-2.0" y="0.0" font-size="25.5" textLength="149.4" lengthAdjust="spacingAndGlyphs" fill="#333">B 70Asn/Ser</text></g><text x="1754.5" y="820.0" font-size="24.6" textLength="24.0" lengthAdjust="spacingAndGlyphs" fill="#444" font-family="DejaVu Sans, sans-serif">△</text><text x="1777.9" y="823.2" font-size="34.3" textLength="172.2" lengthAdjust="spacingAndGlyphs" fill="#000">BIC = +1.5</text><line x1="1809" y1="863.6" x2="1984" y2="863.6" stroke="#e6e6e6" stroke-width="2"/><line x1="1809" y1="1009" x2="1984" y2="1009" stroke="#e6e6e6" stroke-width="1.6"/><line x1="1855.7" y1="828" x2="1855.7" y2="1172" stroke="#ececec" stroke-width="2"/><line x1="1930" y1="828" x2="1930" y2="1172" stroke="#ececec" stroke-width="2"/><line x1="1809.7" y1="1155" x2="1984" y2="1155" stroke="#e01010" stroke-width="4.2" stroke-dasharray="4.2 12.6"/><text x="1763.5" y="874.7" font-size="24.2" textLength="34.0" lengthAdjust="spacingAndGlyphs" fill="#555">1.5</text><text x="1763.5" y="1165.3" font-size="24.2" textLength="32.8" lengthAdjust="spacingAndGlyphs" fill="#555">1.0</text><rect x="1853.2" y="840.8" width="5" height="172.0" fill="#000"/><rect x="1852.2" y="839.8" width="7" height="5" fill="#000"/><rect x="1852.2" y="1008.8" width="7" height="5" fill="#000"/><circle cx="1855.7" cy="930.5" r="12.5" fill="#000"/><rect x="1927.5" y="855.3" width="5" height="181.2" fill="#000"/><rect x="1926.5" y="854.3" width="7" height="5" fill="#000"/><rect x="1926.5" y="1032.5" width="7" height="5" fill="#000"/><circle cx="1930" cy="945.9" r="12.5" fill="#000"/><g transform="translate(1750.4,1132.7) rotate(-90)"><text x="-1.0" y="0.0" font-size="29.0" textLength="270.4" lengthAdjust="spacingAndGlyphs" fill="#000">Odds Ratio (95% CI)</text></g><g transform="translate(1792.1,1273.8) rotate(-45)"><text x="-1.0" y="0.0" font-size="23.0" textLength="104.3" lengthAdjust="spacingAndGlyphs" fill="#333">rs1264813</text></g><g transform="translate(1869.7,1269.3) rotate(-45)"><text x="-2.1" y="0.0" font-size="23.0" textLength="102.0" lengthAdjust="spacingAndGlyphs" fill="#333">HLA-A*24</text></g><text x="1801.8" y="1324.4" font-size="25.3" textLength="24.4" lengthAdjust="spacingAndGlyphs" fill="#444" font-family="DejaVu Sans, sans-serif">△</text><text x="1824.9" y="1326.8" font-size="34.5" textLength="140.2" lengthAdjust="spacingAndGlyphs" fill="#000">BIC = +2</text><line x1="1804.8" y1="1474.8" x2="1974" y2="1474.8" stroke="#e6e6e6" stroke-width="1.6"/><line x1="1804.8" y1="1590" x2="1974" y2="1590" stroke="#e6e6e6" stroke-width="2"/><line x1="1851.4" y1="1343" x2="1851.4" y2="1702" stroke="#ececec" stroke-width="2"/><line x1="1929" y1="1343" x2="1929" y2="1702" stroke="#ececec" stroke-width="2"/><line x1="1805.7" y1="1359.9" x2="1974" y2="1359.9" stroke="#e01010" stroke-width="4.2" stroke-dasharray="4.2 13.1"/><text x="1756.3" y="1369.1" font-size="24.2" textLength="33.6" lengthAdjust="spacingAndGlyphs" fill="#555">1.0</text><text x="1756.5" y="1598.3" font-size="24.2" textLength="33.1" lengthAdjust="spacingAndGlyphs" fill="#555">0.8</text><rect x="1848.9" y="1502.3" width="5" height="154.7" fill="#000"/><rect x="1847.9" y="1501.3" width="7" height="5" fill="#000"/><rect x="1847.9" y="1653.0" width="7" height="5" fill="#000"/><circle cx="1851.4" cy="1577.4" r="16.2" fill="#000"/><rect x="1926.5" y="1515.5" width="5" height="169.5" fill="#000"/><rect x="1925.5" y="1514.5" width="7" height="5" fill="#000"/><rect x="1925.5" y="1681.0" width="7" height="5" fill="#000"/><circle cx="1929" cy="1590" r="16.2" fill="#000"/><g transform="translate(1742.0,1660.0) rotate(-90)"><text x="-1.0" y="0.0" font-size="29.5" textLength="279.1" lengthAdjust="spacingAndGlyphs" fill="#000">Odds Ratio (95% CI)</text></g><g transform="translate(1786.6,1807.4) rotate(-45)"><text x="-1.0" y="0.0" font-size="23.5" textLength="106.8" lengthAdjust="spacingAndGlyphs" fill="#333">rs9268925</text></g><g transform="translate(1865.4,1800.3) rotate(-45)"><text x="-2.1" y="0.0" font-size="23.5" textLength="102.4" lengthAdjust="spacingAndGlyphs" fill="#333">Haplotype</text></g>
</svg></body></html>
